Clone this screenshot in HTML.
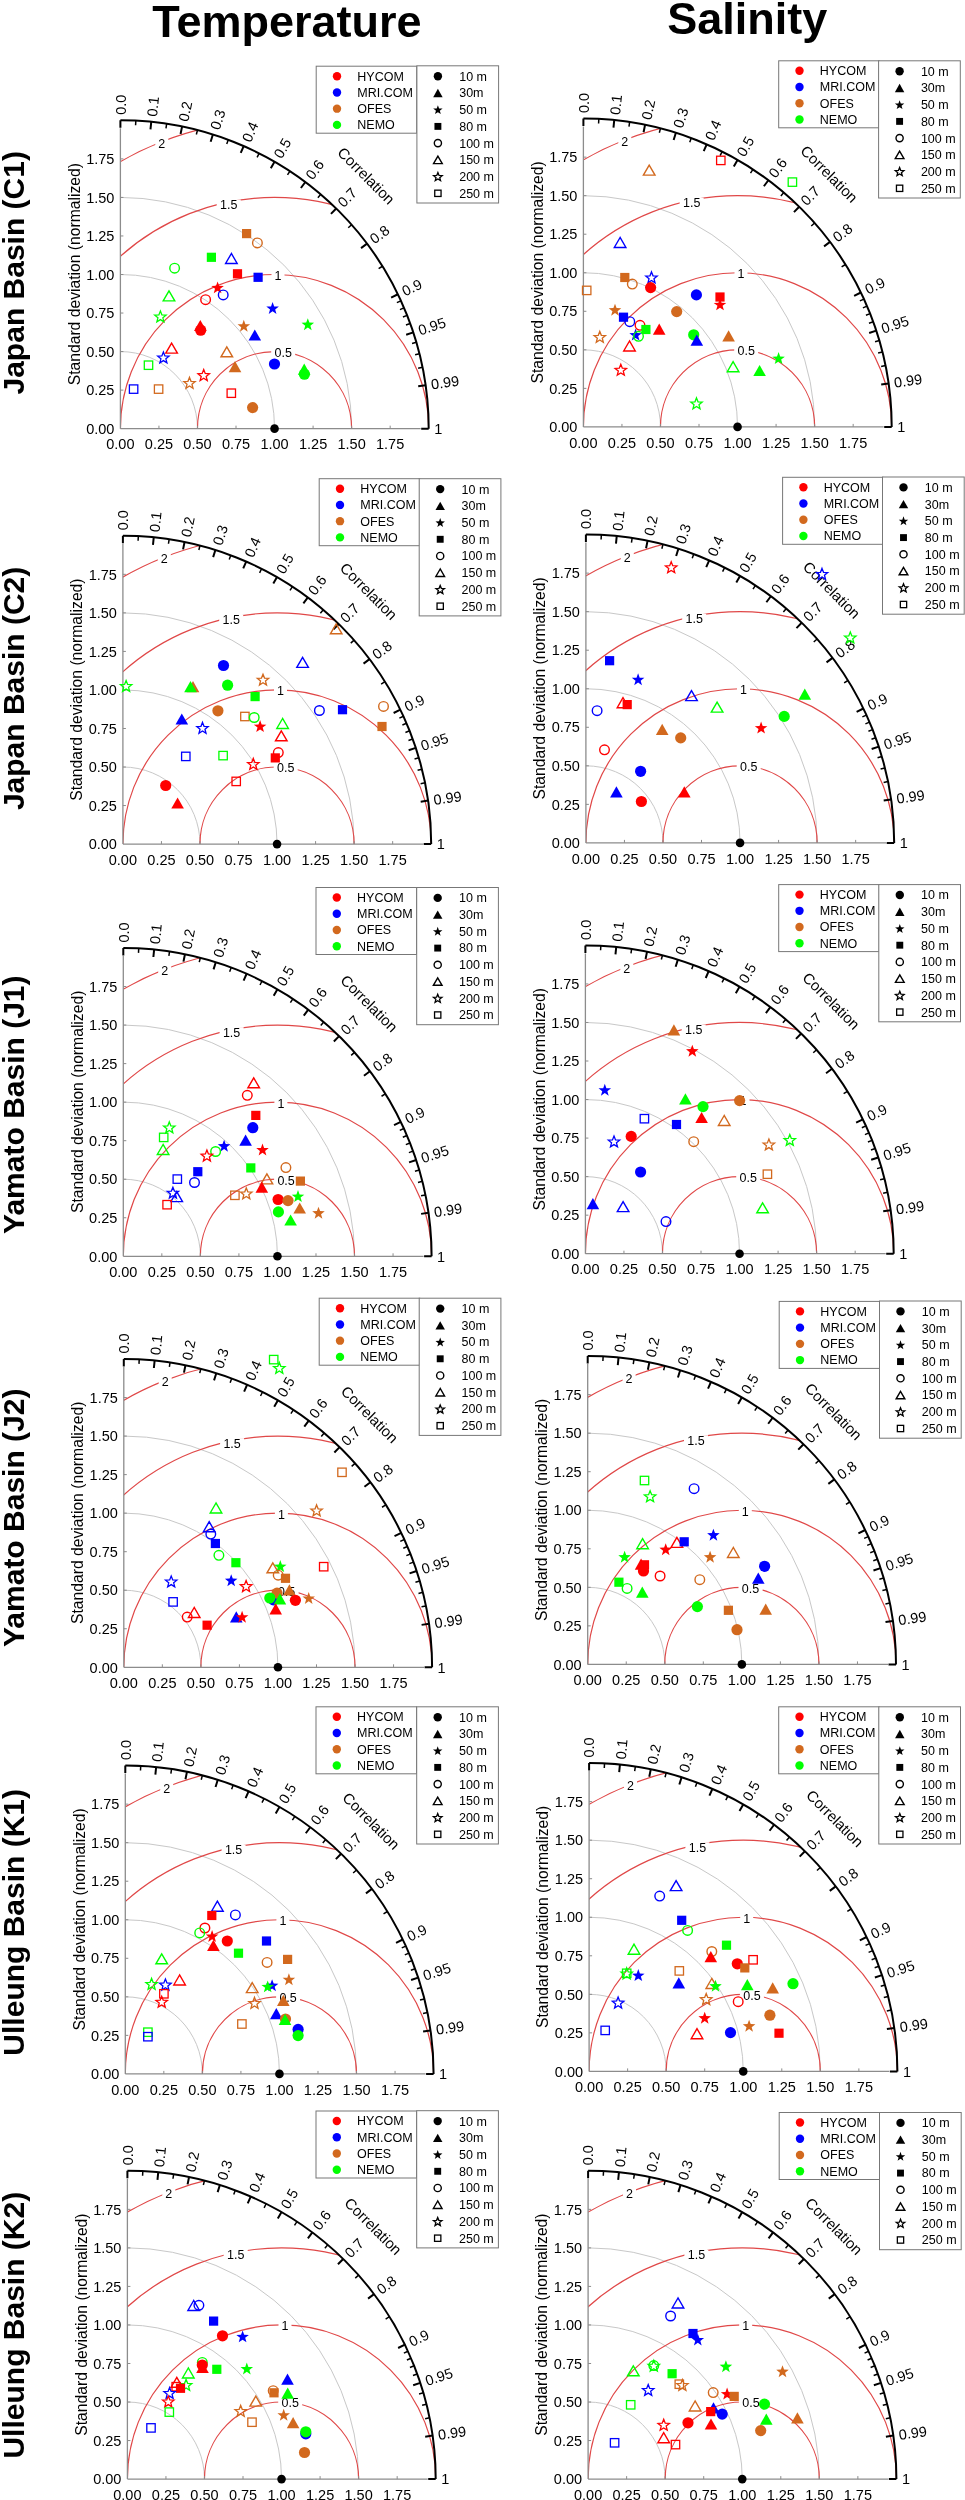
<!DOCTYPE html>
<html><head><meta charset="utf-8"><style>
html,body{margin:0;padding:0;background:#fff;}
svg{display:block;will-change:transform;}
</style></head><body>
<svg width="965" height="2500" viewBox="0 0 965 2500" font-family='"Liberation Sans", sans-serif' fill="#000">
<rect width="965" height="2500" fill="#fff"/>
<text x="286.9" y="36.7" font-size="45" font-weight="bold" text-anchor="middle">Temperature</text>
<text x="747.2" y="34" font-size="45" font-weight="bold" text-anchor="middle">Salinity</text>
<clipPath id="clip0"><path d="M120.4,428.65 L120.4,120.35 A308.3,308.3 0 0 1 428.7,428.65 Z"/></clipPath>
<path d="M120.4,351.57 A77.08,77.08 0 0 1 197.48,428.65" fill="none" stroke="#c8c8c8" stroke-width="1"/>
<path d="M120.4,274.5 A154.15,154.15 0 0 1 274.55,428.65" fill="none" stroke="#c8c8c8" stroke-width="1"/>
<path d="M120.4,197.42 A231.23,231.23 0 0 1 351.62,428.65" fill="none" stroke="#c8c8c8" stroke-width="1"/>
<g clip-path="url(#clip0)" fill="none" stroke="#e04848" stroke-width="1.2"><circle cx="274.55" cy="428.65" r="77.08"/><circle cx="274.55" cy="428.65" r="154.15"/><circle cx="274.55" cy="428.65" r="231.23"/><circle cx="274.55" cy="428.65" r="308.3"/></g>
<rect x="155.3" y="138.2" width="13" height="10" fill="#fff"/>
<text x="161.8" y="147.7" font-size="12.5" text-anchor="middle">2</text>
<rect x="216.7" y="199.5" width="24" height="10" fill="#fff"/>
<text x="228.7" y="209" font-size="12.5" text-anchor="middle">1.5</text>
<rect x="271.5" y="270.4" width="13" height="10" fill="#fff"/>
<text x="278" y="279.9" font-size="12.5" text-anchor="middle">1</text>
<rect x="271.2" y="347.4" width="24" height="10" fill="#fff"/>
<text x="283.2" y="356.9" font-size="12.5" text-anchor="middle">0.5</text>
<path d="M120.4,428.65 H420.7 M120.4,428.65 V128.35" stroke="#8c8c8c" stroke-width="1.3" fill="none"/>
<path d="M158.94,428.65 v-3 M120.4,390.11 h3 M197.48,428.65 v-3 M120.4,351.57 h3 M236.01,428.65 v-3 M120.4,313.04 h3 M274.55,428.65 v-3 M120.4,274.5 h3 M313.09,428.65 v-3 M120.4,235.96 h3 M351.62,428.65 v-3 M120.4,197.42 h3 M390.16,428.65 v-3 M120.4,158.89 h3" stroke="#8c8c8c" stroke-width="1" fill="none"/>
<path d="M120.4,120.35 A308.3,308.3 0 0 1 428.7,428.65" fill="none" stroke="#000" stroke-width="2"/>
<path d="M120.4,120.35 L120.4,127.85 M151.23,121.9 L150.48,129.36 M182.06,126.58 L180.56,133.93 M212.89,134.55 L210.64,141.71 M243.72,146.09 L240.72,152.96 M274.55,161.65 L270.8,168.15 M305.38,182.01 L300.88,188.01 M336.21,208.48 L330.96,213.84 M367.04,243.67 L361.04,248.17 M397.87,294.27 L391.12,297.53 M413.28,332.38 L406.16,334.73 M425.62,385.16 L418.19,386.22 M428.7,428.65 L421.2,428.65" stroke="#000" stroke-width="2" fill="none"/>
<path d="M135.82,120.74 L135.59,125.23 M166.64,123.84 L165.97,128.29 M197.48,130.14 L196.35,134.5 M228.31,139.85 L226.73,144.07 M259.13,153.33 L257.11,157.35 M289.97,171.17 L287.49,174.93 M320.8,194.36 L317.87,197.78 M351.62,224.73 L348.25,227.71 M382.46,266.24 L378.63,268.61 M400.95,300.83 L396.86,302.69 M404.04,307.82 L399.9,309.59 M407.12,315.33 L402.93,316.99 M410.2,323.47 L405.97,325 M416.37,342.33 L412.05,343.59 M419.45,353.7 L415.09,354.79 M422.53,367.3 L418.12,368.19" stroke="#000" stroke-width="1.5" fill="none"/>
<text transform="translate(120.4,114.85) rotate(-90)" x="0" y="5.2" font-size="14.5">0.0</text>
<text transform="translate(151.78,116.42) rotate(-84.26)" x="0" y="5.2" font-size="14.5">0.1</text>
<text transform="translate(183.16,121.19) rotate(-78.46)" x="0" y="5.2" font-size="14.5">0.2</text>
<text transform="translate(214.54,129.3) rotate(-72.54)" x="0" y="5.2" font-size="14.5">0.3</text>
<text transform="translate(245.92,141.05) rotate(-66.42)" x="0" y="5.2" font-size="14.5">0.4</text>
<text transform="translate(277.3,156.89) rotate(-60)" x="0" y="5.2" font-size="14.5">0.5</text>
<text transform="translate(308.68,177.61) rotate(-53.13)" x="0" y="5.2" font-size="14.5">0.6</text>
<text transform="translate(340.06,204.55) rotate(-45.57)" x="0" y="5.2" font-size="14.5">0.7</text>
<text transform="translate(371.44,240.37) rotate(-36.87)" x="0" y="5.2" font-size="14.5">0.8</text>
<text transform="translate(402.82,291.87) rotate(-25.84)" x="0" y="5.2" font-size="14.5">0.9</text>
<text transform="translate(418.51,330.67) rotate(-18.19)" x="0" y="5.2" font-size="14.5">0.95</text>
<text transform="translate(431.06,384.38) rotate(-8.11)" x="0" y="5.2" font-size="14.5">0.99</text>
<text transform="translate(434.2,428.65) rotate(-0)" x="0" y="5.2" font-size="14.5">1</text>
<text x="114.4" y="433.85" font-size="14.5" text-anchor="end">0.00</text>
<text x="120.4" y="449.35" font-size="14.5" text-anchor="middle">0.00</text>
<text x="114.4" y="395.31" font-size="14.5" text-anchor="end">0.25</text>
<text x="158.94" y="449.35" font-size="14.5" text-anchor="middle">0.25</text>
<text x="114.4" y="356.77" font-size="14.5" text-anchor="end">0.50</text>
<text x="197.48" y="449.35" font-size="14.5" text-anchor="middle">0.50</text>
<text x="114.4" y="318.24" font-size="14.5" text-anchor="end">0.75</text>
<text x="236.01" y="449.35" font-size="14.5" text-anchor="middle">0.75</text>
<text x="114.4" y="279.7" font-size="14.5" text-anchor="end">1.00</text>
<text x="274.55" y="449.35" font-size="14.5" text-anchor="middle">1.00</text>
<text x="114.4" y="241.16" font-size="14.5" text-anchor="end">1.25</text>
<text x="313.09" y="449.35" font-size="14.5" text-anchor="middle">1.25</text>
<text x="114.4" y="202.62" font-size="14.5" text-anchor="end">1.50</text>
<text x="351.62" y="449.35" font-size="14.5" text-anchor="middle">1.50</text>
<text x="114.4" y="164.09" font-size="14.5" text-anchor="end">1.75</text>
<text x="390.16" y="449.35" font-size="14.5" text-anchor="middle">1.75</text>
<text transform="translate(366.29,175.8) rotate(45)" y="5.3" font-size="15" text-anchor="middle">Correlation</text>
<text transform="translate(79.6,274.15) rotate(-90)" font-size="15.7" text-anchor="middle">Standard deviation (normalized)</text>
<text transform="translate(23.6,272.8) rotate(-90)" font-size="30" font-weight="bold" text-anchor="middle">Japan Basin (C1)</text>
<rect x="316.2" y="66.2" width="100.5" height="67" fill="#fff" stroke="#777" stroke-width="1"/>
<circle cx="337" cy="76.2" r="4.2" fill="#ff0000"/>
<text x="357.3" y="80.6" font-size="12.5">HYCOM</text>
<circle cx="337" cy="92.43" r="4.2" fill="#0000ff"/>
<text x="357.3" y="96.83" font-size="12.5">MRI.COM</text>
<circle cx="337" cy="108.66" r="4.2" fill="#d2691e"/>
<text x="357.3" y="113.06" font-size="12.5">OFES</text>
<circle cx="337" cy="124.89" r="4.2" fill="#00ff00"/>
<text x="357.3" y="129.29" font-size="12.5">NEMO</text>
<rect x="416.9" y="65.8" width="81.7" height="137.2" fill="#fff" stroke="#777" stroke-width="1"/>
<circle cx="437.9" cy="76.2" r="4.2" fill="#000000"/>
<text x="459.2" y="80.6" font-size="12.5">10 m</text>
<polygon points="437.9,88.73 433.17,97.13 442.62,97.13" fill="#000000"/>
<text x="459.2" y="97.33" font-size="12.5">30m</text>
<polygon points="437.9,105.16 439.09,108.47 442.61,108.58 439.83,110.74 440.81,114.11 437.9,112.14 434.99,114.11 435.97,110.74 433.19,108.58 436.71,108.47" fill="#000000"/>
<text x="459.2" y="114.06" font-size="12.5">50 m</text>
<rect x="434.45" y="122.94" width="6.9" height="6.9" fill="#000000"/>
<text x="459.2" y="130.79" font-size="12.5">80 m</text>
<circle cx="437.9" cy="143.12" r="3.6" fill="none" stroke="#000000" stroke-width="1.4"/>
<text x="459.2" y="147.52" font-size="12.5">100 m</text>
<polygon points="437.9,156.1 433.55,163.6 442.25,163.6" fill="none" stroke="#000000" stroke-width="1.4" stroke-linejoin="miter"/>
<text x="459.2" y="164.25" font-size="12.5">150 m</text>
<polygon points="437.9,172.53 439.05,175.45 442.18,175.64 439.75,177.63 440.55,180.67 437.9,178.98 435.25,180.67 436.05,177.63 433.62,175.64 436.75,175.45" fill="none" stroke="#000000" stroke-width="1.3" stroke-linejoin="miter"/>
<text x="459.2" y="180.98" font-size="12.5">200 m</text>
<rect x="434.75" y="190.16" width="6.3" height="6.3" fill="none" stroke="#000000" stroke-width="1.3"/>
<text x="459.2" y="197.71" font-size="12.5">250 m</text>
<circle cx="274.55" cy="428.65" r="4.3" fill="#000"/>
<rect x="242" y="229" width="9.2" height="9.2" fill="#d2691e"/>
<circle cx="257.4" cy="242.9" r="4.8" fill="none" stroke="#d2691e" stroke-width="1.4"/>
<rect x="206.8" y="252.7" width="9.2" height="9.2" fill="#00ff00"/>
<polygon points="231.4,253.5 225.6,263.5 237.2,263.5" fill="none" stroke="#0000ff" stroke-width="1.4" stroke-linejoin="miter"/>
<circle cx="174.6" cy="268.2" r="4.8" fill="none" stroke="#00ff00" stroke-width="1.4"/>
<rect x="232.9" y="269.2" width="9.2" height="9.2" fill="#ff0000"/>
<rect x="253.5" y="272.7" width="9.2" height="9.2" fill="#0000ff"/>
<polygon points="217.6,281.4 219.19,285.82 223.88,285.96 220.17,288.83 221.48,293.34 217.6,290.7 213.72,293.34 215.03,288.83 211.32,285.96 216.01,285.82" fill="#ff0000"/>
<circle cx="223.2" cy="294.9" r="4.8" fill="none" stroke="#0000ff" stroke-width="1.4"/>
<circle cx="205.6" cy="299.7" r="4.8" fill="none" stroke="#ff0000" stroke-width="1.4"/>
<polygon points="169,290.9 163.2,300.9 174.8,300.9" fill="none" stroke="#00ff00" stroke-width="1.4" stroke-linejoin="miter"/>
<polygon points="160.4,311 161.93,314.9 166.11,315.15 162.87,317.8 163.93,321.85 160.4,319.6 156.87,321.85 157.93,317.8 154.69,315.15 158.87,314.9" fill="none" stroke="#00ff00" stroke-width="1.3" stroke-linejoin="miter"/>
<polygon points="272.6,302 274.19,306.42 278.88,306.56 275.17,309.43 276.48,313.94 272.6,311.3 268.72,313.94 270.03,309.43 266.32,306.56 271.01,306.42" fill="#0000ff"/>
<polygon points="307.8,318.2 309.39,322.62 314.08,322.76 310.37,325.63 311.68,330.14 307.8,327.5 303.92,330.14 305.23,325.63 301.52,322.76 306.21,322.62" fill="#00ff00"/>
<polygon points="243.8,319.8 245.39,324.22 250.08,324.36 246.37,327.23 247.68,331.74 243.8,329.1 239.92,331.74 241.23,327.23 237.52,324.36 242.21,324.22" fill="#d2691e"/>
<polygon points="200.3,319.9 194,331.1 206.6,331.1" fill="#ff0000"/>
<circle cx="200.7" cy="330.2" r="5.6" fill="#ff0000"/>
<polygon points="254.8,329.4 248.5,340.6 261.1,340.6" fill="#0000ff"/>
<polygon points="171.6,343.1 165.8,353.1 177.4,353.1" fill="none" stroke="#ff0000" stroke-width="1.4" stroke-linejoin="miter"/>
<polygon points="226.8,346.8 221,356.8 232.6,356.8" fill="none" stroke="#d2691e" stroke-width="1.4" stroke-linejoin="miter"/>
<polygon points="163.4,352 164.93,355.9 169.11,356.15 165.87,358.8 166.93,362.85 163.4,360.6 159.87,362.85 160.93,358.8 157.69,356.15 161.87,355.9" fill="none" stroke="#0000ff" stroke-width="1.3" stroke-linejoin="miter"/>
<rect x="144.3" y="361" width="8.4" height="8.4" fill="none" stroke="#00ff00" stroke-width="1.3"/>
<polygon points="235,361.1 228.7,372.3 241.3,372.3" fill="#d2691e"/>
<circle cx="274.5" cy="364" r="5.6" fill="#0000ff"/>
<polygon points="304.2,363.6 297.9,374.8 310.5,374.8" fill="#00ff00"/>
<circle cx="304.4" cy="374.2" r="5.6" fill="#00ff00"/>
<polygon points="203.7,369.6 205.23,373.5 209.41,373.75 206.17,376.4 207.23,380.45 203.7,378.2 200.17,380.45 201.23,376.4 197.99,373.75 202.17,373.5" fill="none" stroke="#ff0000" stroke-width="1.3" stroke-linejoin="miter"/>
<polygon points="189.5,377.4 191.03,381.3 195.21,381.55 191.97,384.2 193.03,388.25 189.5,386 185.97,388.25 187.03,384.2 183.79,381.55 187.97,381.3" fill="none" stroke="#d2691e" stroke-width="1.3" stroke-linejoin="miter"/>
<rect x="129.4" y="384.9" width="8.4" height="8.4" fill="none" stroke="#0000ff" stroke-width="1.3"/>
<rect x="154.4" y="384.9" width="8.4" height="8.4" fill="none" stroke="#d2691e" stroke-width="1.3"/>
<rect x="227.1" y="389" width="8.4" height="8.4" fill="none" stroke="#ff0000" stroke-width="1.3"/>
<circle cx="252.6" cy="407.6" r="5.6" fill="#d2691e"/>
<clipPath id="clip1"><path d="M583.4,426.9 L583.4,118.6 A308.3,308.3 0 0 1 891.7,426.9 Z"/></clipPath>
<path d="M583.4,349.82 A77.08,77.08 0 0 1 660.48,426.9" fill="none" stroke="#c8c8c8" stroke-width="1"/>
<path d="M583.4,272.75 A154.15,154.15 0 0 1 737.55,426.9" fill="none" stroke="#c8c8c8" stroke-width="1"/>
<path d="M583.4,195.67 A231.23,231.23 0 0 1 814.62,426.9" fill="none" stroke="#c8c8c8" stroke-width="1"/>
<g clip-path="url(#clip1)" fill="none" stroke="#e04848" stroke-width="1.2"><circle cx="737.55" cy="426.9" r="77.08"/><circle cx="737.55" cy="426.9" r="154.15"/><circle cx="737.55" cy="426.9" r="231.23"/><circle cx="737.55" cy="426.9" r="308.3"/></g>
<rect x="618.3" y="136.45" width="13" height="10" fill="#fff"/>
<text x="624.8" y="145.95" font-size="12.5" text-anchor="middle">2</text>
<rect x="679.7" y="197.75" width="24" height="10" fill="#fff"/>
<text x="691.7" y="207.25" font-size="12.5" text-anchor="middle">1.5</text>
<rect x="734.5" y="268.65" width="13" height="10" fill="#fff"/>
<text x="741" y="278.15" font-size="12.5" text-anchor="middle">1</text>
<rect x="734.2" y="345.65" width="24" height="10" fill="#fff"/>
<text x="746.2" y="355.15" font-size="12.5" text-anchor="middle">0.5</text>
<path d="M583.4,426.9 H883.7 M583.4,426.9 V126.6" stroke="#8c8c8c" stroke-width="1.3" fill="none"/>
<path d="M621.94,426.9 v-3 M583.4,388.36 h3 M660.48,426.9 v-3 M583.4,349.82 h3 M699.01,426.9 v-3 M583.4,311.29 h3 M737.55,426.9 v-3 M583.4,272.75 h3 M776.09,426.9 v-3 M583.4,234.21 h3 M814.62,426.9 v-3 M583.4,195.67 h3 M853.16,426.9 v-3 M583.4,157.14 h3" stroke="#8c8c8c" stroke-width="1" fill="none"/>
<path d="M583.4,118.6 A308.3,308.3 0 0 1 891.7,426.9" fill="none" stroke="#000" stroke-width="2"/>
<path d="M583.4,118.6 L583.4,126.1 M614.23,120.15 L613.48,127.61 M645.06,124.83 L643.56,132.18 M675.89,132.8 L673.64,139.96 M706.72,144.34 L703.72,151.21 M737.55,159.9 L733.8,166.4 M768.38,180.26 L763.88,186.26 M799.21,206.73 L793.96,212.09 M830.04,241.92 L824.04,246.42 M860.87,292.52 L854.12,295.78 M876.28,330.63 L869.16,332.98 M888.62,383.41 L881.19,384.47 M891.7,426.9 L884.2,426.9" stroke="#000" stroke-width="2" fill="none"/>
<path d="M598.82,118.99 L598.59,123.48 M629.64,122.09 L628.97,126.54 M660.48,128.39 L659.35,132.75 M691.3,138.1 L689.73,142.32 M722.13,151.58 L720.11,155.6 M752.97,169.42 L750.49,173.18 M783.79,192.61 L780.87,196.03 M814.62,222.98 L811.25,225.96 M845.45,264.49 L841.63,266.86 M863.95,299.08 L859.86,300.94 M867.04,306.07 L862.9,307.84 M870.12,313.58 L865.93,315.24 M873.2,321.72 L868.97,323.25 M879.37,340.58 L875.05,341.84 M882.45,351.95 L878.09,353.04 M885.53,365.55 L881.12,366.44" stroke="#000" stroke-width="1.5" fill="none"/>
<text transform="translate(583.4,113.1) rotate(-90)" x="0" y="5.2" font-size="14.5">0.0</text>
<text transform="translate(614.78,114.67) rotate(-84.26)" x="0" y="5.2" font-size="14.5">0.1</text>
<text transform="translate(646.16,119.44) rotate(-78.46)" x="0" y="5.2" font-size="14.5">0.2</text>
<text transform="translate(677.54,127.55) rotate(-72.54)" x="0" y="5.2" font-size="14.5">0.3</text>
<text transform="translate(708.92,139.3) rotate(-66.42)" x="0" y="5.2" font-size="14.5">0.4</text>
<text transform="translate(740.3,155.14) rotate(-60)" x="0" y="5.2" font-size="14.5">0.5</text>
<text transform="translate(771.68,175.86) rotate(-53.13)" x="0" y="5.2" font-size="14.5">0.6</text>
<text transform="translate(803.06,202.8) rotate(-45.57)" x="0" y="5.2" font-size="14.5">0.7</text>
<text transform="translate(834.44,238.62) rotate(-36.87)" x="0" y="5.2" font-size="14.5">0.8</text>
<text transform="translate(865.82,290.12) rotate(-25.84)" x="0" y="5.2" font-size="14.5">0.9</text>
<text transform="translate(881.51,328.92) rotate(-18.19)" x="0" y="5.2" font-size="14.5">0.95</text>
<text transform="translate(894.06,382.63) rotate(-8.11)" x="0" y="5.2" font-size="14.5">0.99</text>
<text transform="translate(897.2,426.9) rotate(-0)" x="0" y="5.2" font-size="14.5">1</text>
<text x="577.4" y="432.1" font-size="14.5" text-anchor="end">0.00</text>
<text x="583.4" y="447.6" font-size="14.5" text-anchor="middle">0.00</text>
<text x="577.4" y="393.56" font-size="14.5" text-anchor="end">0.25</text>
<text x="621.94" y="447.6" font-size="14.5" text-anchor="middle">0.25</text>
<text x="577.4" y="355.02" font-size="14.5" text-anchor="end">0.50</text>
<text x="660.48" y="447.6" font-size="14.5" text-anchor="middle">0.50</text>
<text x="577.4" y="316.49" font-size="14.5" text-anchor="end">0.75</text>
<text x="699.01" y="447.6" font-size="14.5" text-anchor="middle">0.75</text>
<text x="577.4" y="277.95" font-size="14.5" text-anchor="end">1.00</text>
<text x="737.55" y="447.6" font-size="14.5" text-anchor="middle">1.00</text>
<text x="577.4" y="239.41" font-size="14.5" text-anchor="end">1.25</text>
<text x="776.09" y="447.6" font-size="14.5" text-anchor="middle">1.25</text>
<text x="577.4" y="200.87" font-size="14.5" text-anchor="end">1.50</text>
<text x="814.62" y="447.6" font-size="14.5" text-anchor="middle">1.50</text>
<text x="577.4" y="162.34" font-size="14.5" text-anchor="end">1.75</text>
<text x="853.16" y="447.6" font-size="14.5" text-anchor="middle">1.75</text>
<text transform="translate(829.29,174.05) rotate(45)" y="5.3" font-size="15" text-anchor="middle">Correlation</text>
<text transform="translate(542.6,272.4) rotate(-90)" font-size="15.7" text-anchor="middle">Standard deviation (normalized)</text>
<rect x="778.7" y="60.8" width="100.5" height="67" fill="#fff" stroke="#777" stroke-width="1"/>
<circle cx="799.5" cy="70.8" r="4.2" fill="#ff0000"/>
<text x="819.8" y="75.2" font-size="12.5">HYCOM</text>
<circle cx="799.5" cy="87.03" r="4.2" fill="#0000ff"/>
<text x="819.8" y="91.43" font-size="12.5">MRI.COM</text>
<circle cx="799.5" cy="103.26" r="4.2" fill="#d2691e"/>
<text x="819.8" y="107.66" font-size="12.5">OFES</text>
<circle cx="799.5" cy="119.49" r="4.2" fill="#00ff00"/>
<text x="819.8" y="123.89" font-size="12.5">NEMO</text>
<rect x="878.6" y="60.8" width="81.7" height="137.2" fill="#fff" stroke="#777" stroke-width="1"/>
<circle cx="899.6" cy="71.2" r="4.2" fill="#000000"/>
<text x="920.9" y="75.6" font-size="12.5">10 m</text>
<polygon points="899.6,83.73 894.88,92.13 904.33,92.13" fill="#000000"/>
<text x="920.9" y="92.33" font-size="12.5">30m</text>
<polygon points="899.6,100.16 900.79,103.47 904.31,103.58 901.53,105.74 902.51,109.11 899.6,107.14 896.69,109.11 897.67,105.74 894.89,103.58 898.41,103.47" fill="#000000"/>
<text x="920.9" y="109.06" font-size="12.5">50 m</text>
<rect x="896.15" y="117.94" width="6.9" height="6.9" fill="#000000"/>
<text x="920.9" y="125.79" font-size="12.5">80 m</text>
<circle cx="899.6" cy="138.12" r="3.6" fill="none" stroke="#000000" stroke-width="1.4"/>
<text x="920.9" y="142.52" font-size="12.5">100 m</text>
<polygon points="899.6,151.1 895.25,158.6 903.95,158.6" fill="none" stroke="#000000" stroke-width="1.4" stroke-linejoin="miter"/>
<text x="920.9" y="159.25" font-size="12.5">150 m</text>
<polygon points="899.6,167.53 900.75,170.45 903.88,170.64 901.45,172.63 902.25,175.67 899.6,173.98 896.95,175.67 897.75,172.63 895.32,170.64 898.45,170.45" fill="none" stroke="#000000" stroke-width="1.3" stroke-linejoin="miter"/>
<text x="920.9" y="175.98" font-size="12.5">200 m</text>
<rect x="896.45" y="185.16" width="6.3" height="6.3" fill="none" stroke="#000000" stroke-width="1.3"/>
<text x="920.9" y="192.71" font-size="12.5">250 m</text>
<circle cx="737.55" cy="426.9" r="4.3" fill="#000"/>
<polygon points="649.2,165.1 643.4,175.1 655,175.1" fill="none" stroke="#d2691e" stroke-width="1.4" stroke-linejoin="miter"/>
<rect x="716.6" y="156.2" width="8.4" height="8.4" fill="none" stroke="#ff0000" stroke-width="1.3"/>
<rect x="788.2" y="177.9" width="8.4" height="8.4" fill="none" stroke="#00ff00" stroke-width="1.3"/>
<polygon points="620.1,237.5 614.3,247.5 625.9,247.5" fill="none" stroke="#0000ff" stroke-width="1.4" stroke-linejoin="miter"/>
<rect x="620.2" y="272.9" width="9.2" height="9.2" fill="#d2691e"/>
<circle cx="632.3" cy="284.1" r="4.8" fill="none" stroke="#d2691e" stroke-width="1.4"/>
<polygon points="651.5,271.9 653.03,275.8 657.21,276.05 653.97,278.7 655.03,282.75 651.5,280.5 647.97,282.75 649.03,278.7 645.79,276.05 649.97,275.8" fill="none" stroke="#0000ff" stroke-width="1.3" stroke-linejoin="miter"/>
<circle cx="650.6" cy="287.6" r="5.6" fill="#ff0000"/>
<rect x="582.5" y="286.2" width="8.4" height="8.4" fill="none" stroke="#d2691e" stroke-width="1.3"/>
<circle cx="696.4" cy="294.9" r="5.6" fill="#0000ff"/>
<rect x="715.4" y="292.4" width="9.2" height="9.2" fill="#ff0000"/>
<polygon points="720,298.4 721.59,302.82 726.28,302.96 722.57,305.83 723.88,310.34 720,307.7 716.12,310.34 717.43,305.83 713.72,302.96 718.41,302.82" fill="#ff0000"/>
<polygon points="615,303.7 616.59,308.12 621.28,308.26 617.57,311.13 618.88,315.64 615,313 611.12,315.64 612.43,311.13 608.72,308.26 613.41,308.12" fill="#d2691e"/>
<circle cx="676.7" cy="311.6" r="5.6" fill="#d2691e"/>
<rect x="618.9" y="312.6" width="9.2" height="9.2" fill="#0000ff"/>
<circle cx="629.8" cy="321.7" r="4.8" fill="none" stroke="#0000ff" stroke-width="1.4"/>
<circle cx="640" cy="325.3" r="4.8" fill="none" stroke="#ff0000" stroke-width="1.4"/>
<rect x="641.3" y="324.9" width="9.2" height="9.2" fill="#00ff00"/>
<polygon points="659.2,323.6 652.9,334.8 665.5,334.8" fill="#ff0000"/>
<polygon points="635.6,328.6 637.19,333.02 641.88,333.16 638.17,336.03 639.48,340.54 635.6,337.9 631.72,340.54 633.03,336.03 629.32,333.16 634.01,333.02" fill="#0000ff"/>
<circle cx="638.5" cy="336.3" r="4.8" fill="none" stroke="#00ff00" stroke-width="1.4"/>
<circle cx="693.7" cy="334.8" r="5.6" fill="#00ff00"/>
<polygon points="696.8,334.6 690.5,345.8 703.1,345.8" fill="#0000ff"/>
<polygon points="728.6,330.2 722.3,341.4 734.9,341.4" fill="#d2691e"/>
<polygon points="599.8,331.4 601.33,335.3 605.51,335.55 602.27,338.2 603.33,342.25 599.8,340 596.27,342.25 597.33,338.2 594.09,335.55 598.27,335.3" fill="none" stroke="#d2691e" stroke-width="1.3" stroke-linejoin="miter"/>
<polygon points="629.5,341 623.7,351 635.3,351" fill="none" stroke="#ff0000" stroke-width="1.4" stroke-linejoin="miter"/>
<polygon points="733.1,361.7 727.3,371.7 738.9,371.7" fill="none" stroke="#00ff00" stroke-width="1.4" stroke-linejoin="miter"/>
<polygon points="759.6,364.9 753.3,376.1 765.9,376.1" fill="#00ff00"/>
<polygon points="778.6,352.1 780.19,356.52 784.88,356.66 781.17,359.53 782.48,364.04 778.6,361.4 774.72,364.04 776.03,359.53 772.32,356.66 777.01,356.52" fill="#00ff00"/>
<polygon points="620.8,364.3 622.33,368.2 626.51,368.45 623.27,371.1 624.33,375.15 620.8,372.9 617.27,375.15 618.33,371.1 615.09,368.45 619.27,368.2" fill="none" stroke="#ff0000" stroke-width="1.3" stroke-linejoin="miter"/>
<polygon points="696.5,397.9 698.03,401.8 702.21,402.05 698.97,404.7 700.03,408.75 696.5,406.5 692.97,408.75 694.03,404.7 690.79,402.05 694.97,401.8" fill="none" stroke="#00ff00" stroke-width="1.3" stroke-linejoin="miter"/>
<clipPath id="clip2"><path d="M122.9,844.1 L122.9,535.8 A308.3,308.3 0 0 1 431.2,844.1 Z"/></clipPath>
<path d="M122.9,767.02 A77.08,77.08 0 0 1 199.98,844.1" fill="none" stroke="#c8c8c8" stroke-width="1"/>
<path d="M122.9,689.95 A154.15,154.15 0 0 1 277.05,844.1" fill="none" stroke="#c8c8c8" stroke-width="1"/>
<path d="M122.9,612.88 A231.23,231.23 0 0 1 354.12,844.1" fill="none" stroke="#c8c8c8" stroke-width="1"/>
<g clip-path="url(#clip2)" fill="none" stroke="#e04848" stroke-width="1.2"><circle cx="277.05" cy="844.1" r="77.08"/><circle cx="277.05" cy="844.1" r="154.15"/><circle cx="277.05" cy="844.1" r="231.23"/><circle cx="277.05" cy="844.1" r="308.3"/></g>
<rect x="157.8" y="553.65" width="13" height="10" fill="#fff"/>
<text x="164.3" y="563.15" font-size="12.5" text-anchor="middle">2</text>
<rect x="219.2" y="614.95" width="24" height="10" fill="#fff"/>
<text x="231.2" y="624.45" font-size="12.5" text-anchor="middle">1.5</text>
<rect x="274" y="685.85" width="13" height="10" fill="#fff"/>
<text x="280.5" y="695.35" font-size="12.5" text-anchor="middle">1</text>
<rect x="273.7" y="762.85" width="24" height="10" fill="#fff"/>
<text x="285.7" y="772.35" font-size="12.5" text-anchor="middle">0.5</text>
<path d="M122.9,844.1 H423.2 M122.9,844.1 V543.8" stroke="#8c8c8c" stroke-width="1.3" fill="none"/>
<path d="M161.44,844.1 v-3 M122.9,805.56 h3 M199.98,844.1 v-3 M122.9,767.02 h3 M238.51,844.1 v-3 M122.9,728.49 h3 M277.05,844.1 v-3 M122.9,689.95 h3 M315.59,844.1 v-3 M122.9,651.41 h3 M354.12,844.1 v-3 M122.9,612.88 h3 M392.66,844.1 v-3 M122.9,574.34 h3" stroke="#8c8c8c" stroke-width="1" fill="none"/>
<path d="M122.9,535.8 A308.3,308.3 0 0 1 431.2,844.1" fill="none" stroke="#000" stroke-width="2"/>
<path d="M122.9,535.8 L122.9,543.3 M153.73,537.35 L152.98,544.81 M184.56,542.03 L183.06,549.38 M215.39,550 L213.14,557.16 M246.22,561.54 L243.22,568.41 M277.05,577.1 L273.3,583.6 M307.88,597.46 L303.38,603.46 M338.71,623.93 L333.46,629.29 M369.54,659.12 L363.54,663.62 M400.37,709.72 L393.62,712.98 M415.78,747.83 L408.66,750.18 M428.12,800.61 L420.69,801.67 M431.2,844.1 L423.7,844.1" stroke="#000" stroke-width="2" fill="none"/>
<path d="M138.32,536.19 L138.09,540.68 M169.14,539.29 L168.47,543.74 M199.98,545.59 L198.85,549.95 M230.81,555.3 L229.23,559.52 M261.63,568.78 L259.61,572.8 M292.47,586.62 L289.99,590.38 M323.3,609.81 L320.37,613.23 M354.12,640.18 L350.75,643.16 M384.96,681.69 L381.13,684.06 M403.45,716.28 L399.36,718.14 M406.54,723.27 L402.4,725.04 M409.62,730.78 L405.43,732.44 M412.7,738.92 L408.47,740.45 M418.87,757.78 L414.55,759.04 M421.95,769.15 L417.59,770.24 M425.03,782.75 L420.62,783.64" stroke="#000" stroke-width="1.5" fill="none"/>
<text transform="translate(122.9,530.3) rotate(-90)" x="0" y="5.2" font-size="14.5">0.0</text>
<text transform="translate(154.28,531.87) rotate(-84.26)" x="0" y="5.2" font-size="14.5">0.1</text>
<text transform="translate(185.66,536.64) rotate(-78.46)" x="0" y="5.2" font-size="14.5">0.2</text>
<text transform="translate(217.04,544.75) rotate(-72.54)" x="0" y="5.2" font-size="14.5">0.3</text>
<text transform="translate(248.42,556.5) rotate(-66.42)" x="0" y="5.2" font-size="14.5">0.4</text>
<text transform="translate(279.8,572.34) rotate(-60)" x="0" y="5.2" font-size="14.5">0.5</text>
<text transform="translate(311.18,593.06) rotate(-53.13)" x="0" y="5.2" font-size="14.5">0.6</text>
<text transform="translate(342.56,620) rotate(-45.57)" x="0" y="5.2" font-size="14.5">0.7</text>
<text transform="translate(373.94,655.82) rotate(-36.87)" x="0" y="5.2" font-size="14.5">0.8</text>
<text transform="translate(405.32,707.32) rotate(-25.84)" x="0" y="5.2" font-size="14.5">0.9</text>
<text transform="translate(421.01,746.12) rotate(-18.19)" x="0" y="5.2" font-size="14.5">0.95</text>
<text transform="translate(433.56,799.83) rotate(-8.11)" x="0" y="5.2" font-size="14.5">0.99</text>
<text transform="translate(436.7,844.1) rotate(-0)" x="0" y="5.2" font-size="14.5">1</text>
<text x="116.9" y="849.3" font-size="14.5" text-anchor="end">0.00</text>
<text x="122.9" y="864.8" font-size="14.5" text-anchor="middle">0.00</text>
<text x="116.9" y="810.76" font-size="14.5" text-anchor="end">0.25</text>
<text x="161.44" y="864.8" font-size="14.5" text-anchor="middle">0.25</text>
<text x="116.9" y="772.23" font-size="14.5" text-anchor="end">0.50</text>
<text x="199.98" y="864.8" font-size="14.5" text-anchor="middle">0.50</text>
<text x="116.9" y="733.69" font-size="14.5" text-anchor="end">0.75</text>
<text x="238.51" y="864.8" font-size="14.5" text-anchor="middle">0.75</text>
<text x="116.9" y="695.15" font-size="14.5" text-anchor="end">1.00</text>
<text x="277.05" y="864.8" font-size="14.5" text-anchor="middle">1.00</text>
<text x="116.9" y="656.61" font-size="14.5" text-anchor="end">1.25</text>
<text x="315.59" y="864.8" font-size="14.5" text-anchor="middle">1.25</text>
<text x="116.9" y="618.08" font-size="14.5" text-anchor="end">1.50</text>
<text x="354.12" y="864.8" font-size="14.5" text-anchor="middle">1.50</text>
<text x="116.9" y="579.54" font-size="14.5" text-anchor="end">1.75</text>
<text x="392.66" y="864.8" font-size="14.5" text-anchor="middle">1.75</text>
<text transform="translate(368.79,591.25) rotate(45)" y="5.3" font-size="15" text-anchor="middle">Correlation</text>
<text transform="translate(82.1,689.6) rotate(-90)" font-size="15.7" text-anchor="middle">Standard deviation (normalized)</text>
<text transform="translate(23.6,688.4) rotate(-90)" font-size="30" font-weight="bold" text-anchor="middle">Japan Basin (C2)</text>
<rect x="319.2" y="478.7" width="100.5" height="67" fill="#fff" stroke="#777" stroke-width="1"/>
<circle cx="340" cy="488.7" r="4.2" fill="#ff0000"/>
<text x="360.3" y="493.1" font-size="12.5">HYCOM</text>
<circle cx="340" cy="504.93" r="4.2" fill="#0000ff"/>
<text x="360.3" y="509.33" font-size="12.5">MRI.COM</text>
<circle cx="340" cy="521.16" r="4.2" fill="#d2691e"/>
<text x="360.3" y="525.56" font-size="12.5">OFES</text>
<circle cx="340" cy="537.39" r="4.2" fill="#00ff00"/>
<text x="360.3" y="541.79" font-size="12.5">NEMO</text>
<rect x="419.2" y="478.7" width="81.7" height="137.2" fill="#fff" stroke="#777" stroke-width="1"/>
<circle cx="440.2" cy="489.1" r="4.2" fill="#000000"/>
<text x="461.5" y="493.5" font-size="12.5">10 m</text>
<polygon points="440.2,501.63 435.47,510.03 444.93,510.03" fill="#000000"/>
<text x="461.5" y="510.23" font-size="12.5">30m</text>
<polygon points="440.2,518.06 441.39,521.37 444.91,521.48 442.13,523.64 443.11,527.01 440.2,525.03 437.29,527.01 438.27,523.64 435.49,521.48 439.01,521.37" fill="#000000"/>
<text x="461.5" y="526.96" font-size="12.5">50 m</text>
<rect x="436.75" y="535.84" width="6.9" height="6.9" fill="#000000"/>
<text x="461.5" y="543.69" font-size="12.5">80 m</text>
<circle cx="440.2" cy="556.02" r="3.6" fill="none" stroke="#000000" stroke-width="1.4"/>
<text x="461.5" y="560.42" font-size="12.5">100 m</text>
<polygon points="440.2,569 435.85,576.5 444.55,576.5" fill="none" stroke="#000000" stroke-width="1.4" stroke-linejoin="miter"/>
<text x="461.5" y="577.15" font-size="12.5">150 m</text>
<polygon points="440.2,585.43 441.35,588.35 444.48,588.54 442.05,590.53 442.85,593.57 440.2,591.88 437.55,593.57 438.35,590.53 435.92,588.54 439.05,588.35" fill="none" stroke="#000000" stroke-width="1.3" stroke-linejoin="miter"/>
<text x="461.5" y="593.88" font-size="12.5">200 m</text>
<rect x="437.05" y="603.06" width="6.3" height="6.3" fill="none" stroke="#000000" stroke-width="1.3"/>
<text x="461.5" y="610.61" font-size="12.5">250 m</text>
<circle cx="277.05" cy="844.1" r="4.3" fill="#000"/>
<polygon points="336.2,623.8 330.4,633.8 342,633.8" fill="none" stroke="#d2691e" stroke-width="1.4" stroke-linejoin="miter"/>
<polygon points="302.6,657.4 296.8,667.4 308.4,667.4" fill="none" stroke="#0000ff" stroke-width="1.4" stroke-linejoin="miter"/>
<circle cx="223.5" cy="665.5" r="5.6" fill="#0000ff"/>
<polygon points="263,674.2 264.53,678.1 268.71,678.35 265.47,681 266.53,685.05 263,682.8 259.47,685.05 260.53,681 257.29,678.35 261.47,678.1" fill="none" stroke="#d2691e" stroke-width="1.3" stroke-linejoin="miter"/>
<polygon points="126.1,680.5 127.63,684.4 131.81,684.65 128.57,687.3 129.63,691.35 126.1,689.1 122.57,691.35 123.63,687.3 120.39,684.65 124.57,684.4" fill="none" stroke="#00ff00" stroke-width="1.3" stroke-linejoin="miter"/>
<polygon points="193,681.1 186.7,692.3 199.3,692.3" fill="#d2691e"/>
<polygon points="190.5,681.1 184.2,692.3 196.8,692.3" fill="#00ff00"/>
<circle cx="227.6" cy="685.2" r="5.6" fill="#00ff00"/>
<rect x="250.5" y="692" width="9.2" height="9.2" fill="#00ff00"/>
<circle cx="383.5" cy="706.4" r="4.8" fill="none" stroke="#d2691e" stroke-width="1.4"/>
<circle cx="319.4" cy="710.5" r="4.8" fill="none" stroke="#0000ff" stroke-width="1.4"/>
<rect x="337.9" y="705.1" width="9.2" height="9.2" fill="#0000ff"/>
<circle cx="217.9" cy="710.8" r="5.6" fill="#d2691e"/>
<rect x="240.7" y="712.3" width="8.4" height="8.4" fill="none" stroke="#d2691e" stroke-width="1.3"/>
<circle cx="254.2" cy="717.5" r="4.8" fill="none" stroke="#00ff00" stroke-width="1.4"/>
<polygon points="181.8,713.4 175.5,724.6 188.1,724.6" fill="#0000ff"/>
<polygon points="260.1,720.1 261.69,724.52 266.38,724.66 262.67,727.53 263.98,732.04 260.1,729.4 256.22,732.04 257.53,727.53 253.82,724.66 258.51,724.52" fill="#ff0000"/>
<polygon points="282.6,718.5 276.8,728.5 288.4,728.5" fill="none" stroke="#00ff00" stroke-width="1.4" stroke-linejoin="miter"/>
<polygon points="202.5,722.4 204.03,726.3 208.21,726.55 204.97,729.2 206.03,733.25 202.5,731 198.97,733.25 200.03,729.2 196.79,726.55 200.97,726.3" fill="none" stroke="#0000ff" stroke-width="1.3" stroke-linejoin="miter"/>
<rect x="377.4" y="721.9" width="9.2" height="9.2" fill="#d2691e"/>
<polygon points="281.3,730.8 275.5,740.8 287.1,740.8" fill="none" stroke="#ff0000" stroke-width="1.4" stroke-linejoin="miter"/>
<rect x="181.6" y="752.2" width="8.4" height="8.4" fill="none" stroke="#0000ff" stroke-width="1.3"/>
<rect x="218.9" y="751.4" width="8.4" height="8.4" fill="none" stroke="#00ff00" stroke-width="1.3"/>
<circle cx="278.3" cy="752.6" r="4.8" fill="none" stroke="#ff0000" stroke-width="1.4"/>
<rect x="270.7" y="753.3" width="9.2" height="9.2" fill="#ff0000"/>
<polygon points="253.3,758.4 254.83,762.3 259.01,762.55 255.77,765.2 256.83,769.25 253.3,767 249.77,769.25 250.83,765.2 247.59,762.55 251.77,762.3" fill="none" stroke="#ff0000" stroke-width="1.3" stroke-linejoin="miter"/>
<rect x="232" y="777.2" width="8.4" height="8.4" fill="none" stroke="#ff0000" stroke-width="1.3"/>
<circle cx="165.7" cy="785.5" r="5.6" fill="#ff0000"/>
<polygon points="177.6,797.4 171.3,808.6 183.9,808.6" fill="#ff0000"/>
<clipPath id="clip3"><path d="M585.9,842.9 L585.9,534.6 A308.3,308.3 0 0 1 894.2,842.9 Z"/></clipPath>
<path d="M585.9,765.82 A77.08,77.08 0 0 1 662.98,842.9" fill="none" stroke="#c8c8c8" stroke-width="1"/>
<path d="M585.9,688.75 A154.15,154.15 0 0 1 740.05,842.9" fill="none" stroke="#c8c8c8" stroke-width="1"/>
<path d="M585.9,611.67 A231.23,231.23 0 0 1 817.12,842.9" fill="none" stroke="#c8c8c8" stroke-width="1"/>
<g clip-path="url(#clip3)" fill="none" stroke="#e04848" stroke-width="1.2"><circle cx="740.05" cy="842.9" r="77.08"/><circle cx="740.05" cy="842.9" r="154.15"/><circle cx="740.05" cy="842.9" r="231.23"/><circle cx="740.05" cy="842.9" r="308.3"/></g>
<rect x="620.8" y="552.45" width="13" height="10" fill="#fff"/>
<text x="627.3" y="561.95" font-size="12.5" text-anchor="middle">2</text>
<rect x="682.2" y="613.75" width="24" height="10" fill="#fff"/>
<text x="694.2" y="623.25" font-size="12.5" text-anchor="middle">1.5</text>
<rect x="737" y="684.65" width="13" height="10" fill="#fff"/>
<text x="743.5" y="694.15" font-size="12.5" text-anchor="middle">1</text>
<rect x="736.7" y="761.65" width="24" height="10" fill="#fff"/>
<text x="748.7" y="771.15" font-size="12.5" text-anchor="middle">0.5</text>
<path d="M585.9,842.9 H886.2 M585.9,842.9 V542.6" stroke="#8c8c8c" stroke-width="1.3" fill="none"/>
<path d="M624.44,842.9 v-3 M585.9,804.36 h3 M662.98,842.9 v-3 M585.9,765.82 h3 M701.51,842.9 v-3 M585.9,727.29 h3 M740.05,842.9 v-3 M585.9,688.75 h3 M778.59,842.9 v-3 M585.9,650.21 h3 M817.12,842.9 v-3 M585.9,611.67 h3 M855.66,842.9 v-3 M585.9,573.14 h3" stroke="#8c8c8c" stroke-width="1" fill="none"/>
<path d="M585.9,534.6 A308.3,308.3 0 0 1 894.2,842.9" fill="none" stroke="#000" stroke-width="2"/>
<path d="M585.9,534.6 L585.9,542.1 M616.73,536.15 L615.98,543.61 M647.56,540.83 L646.06,548.18 M678.39,548.8 L676.14,555.96 M709.22,560.34 L706.22,567.21 M740.05,575.9 L736.3,582.4 M770.88,596.26 L766.38,602.26 M801.71,622.73 L796.46,628.09 M832.54,657.92 L826.54,662.42 M863.37,708.52 L856.62,711.78 M878.78,746.63 L871.66,748.98 M891.12,799.41 L883.69,800.47 M894.2,842.9 L886.7,842.9" stroke="#000" stroke-width="2" fill="none"/>
<path d="M601.32,534.99 L601.09,539.48 M632.14,538.09 L631.47,542.54 M662.98,544.39 L661.85,548.75 M693.8,554.1 L692.23,558.32 M724.63,567.58 L722.61,571.6 M755.47,585.42 L752.99,589.18 M786.29,608.61 L783.37,612.03 M817.12,638.98 L813.75,641.96 M847.95,680.49 L844.13,682.86 M866.45,715.08 L862.36,716.94 M869.54,722.07 L865.4,723.84 M872.62,729.58 L868.43,731.24 M875.7,737.72 L871.47,739.25 M881.87,756.58 L877.55,757.84 M884.95,767.95 L880.59,769.04 M888.03,781.55 L883.62,782.44" stroke="#000" stroke-width="1.5" fill="none"/>
<text transform="translate(585.9,529.1) rotate(-90)" x="0" y="5.2" font-size="14.5">0.0</text>
<text transform="translate(617.28,530.67) rotate(-84.26)" x="0" y="5.2" font-size="14.5">0.1</text>
<text transform="translate(648.66,535.44) rotate(-78.46)" x="0" y="5.2" font-size="14.5">0.2</text>
<text transform="translate(680.04,543.55) rotate(-72.54)" x="0" y="5.2" font-size="14.5">0.3</text>
<text transform="translate(711.42,555.3) rotate(-66.42)" x="0" y="5.2" font-size="14.5">0.4</text>
<text transform="translate(742.8,571.14) rotate(-60)" x="0" y="5.2" font-size="14.5">0.5</text>
<text transform="translate(774.18,591.86) rotate(-53.13)" x="0" y="5.2" font-size="14.5">0.6</text>
<text transform="translate(805.56,618.8) rotate(-45.57)" x="0" y="5.2" font-size="14.5">0.7</text>
<text transform="translate(836.94,654.62) rotate(-36.87)" x="0" y="5.2" font-size="14.5">0.8</text>
<text transform="translate(868.32,706.12) rotate(-25.84)" x="0" y="5.2" font-size="14.5">0.9</text>
<text transform="translate(884.01,744.92) rotate(-18.19)" x="0" y="5.2" font-size="14.5">0.95</text>
<text transform="translate(896.56,798.63) rotate(-8.11)" x="0" y="5.2" font-size="14.5">0.99</text>
<text transform="translate(899.7,842.9) rotate(-0)" x="0" y="5.2" font-size="14.5">1</text>
<text x="579.9" y="848.1" font-size="14.5" text-anchor="end">0.00</text>
<text x="585.9" y="863.6" font-size="14.5" text-anchor="middle">0.00</text>
<text x="579.9" y="809.56" font-size="14.5" text-anchor="end">0.25</text>
<text x="624.44" y="863.6" font-size="14.5" text-anchor="middle">0.25</text>
<text x="579.9" y="771.02" font-size="14.5" text-anchor="end">0.50</text>
<text x="662.98" y="863.6" font-size="14.5" text-anchor="middle">0.50</text>
<text x="579.9" y="732.49" font-size="14.5" text-anchor="end">0.75</text>
<text x="701.51" y="863.6" font-size="14.5" text-anchor="middle">0.75</text>
<text x="579.9" y="693.95" font-size="14.5" text-anchor="end">1.00</text>
<text x="740.05" y="863.6" font-size="14.5" text-anchor="middle">1.00</text>
<text x="579.9" y="655.41" font-size="14.5" text-anchor="end">1.25</text>
<text x="778.59" y="863.6" font-size="14.5" text-anchor="middle">1.25</text>
<text x="579.9" y="616.88" font-size="14.5" text-anchor="end">1.50</text>
<text x="817.12" y="863.6" font-size="14.5" text-anchor="middle">1.50</text>
<text x="579.9" y="578.34" font-size="14.5" text-anchor="end">1.75</text>
<text x="855.66" y="863.6" font-size="14.5" text-anchor="middle">1.75</text>
<text transform="translate(831.79,590.05) rotate(45)" y="5.3" font-size="15" text-anchor="middle">Correlation</text>
<text transform="translate(545.1,688.4) rotate(-90)" font-size="15.7" text-anchor="middle">Standard deviation (normalized)</text>
<rect x="782.6" y="477.3" width="100.5" height="67" fill="#fff" stroke="#777" stroke-width="1"/>
<circle cx="803.4" cy="487.3" r="4.2" fill="#ff0000"/>
<text x="823.7" y="491.7" font-size="12.5">HYCOM</text>
<circle cx="803.4" cy="503.53" r="4.2" fill="#0000ff"/>
<text x="823.7" y="507.93" font-size="12.5">MRI.COM</text>
<circle cx="803.4" cy="519.76" r="4.2" fill="#d2691e"/>
<text x="823.7" y="524.16" font-size="12.5">OFES</text>
<circle cx="803.4" cy="535.99" r="4.2" fill="#00ff00"/>
<text x="823.7" y="540.39" font-size="12.5">NEMO</text>
<rect x="882.5" y="477" width="81.7" height="137.2" fill="#fff" stroke="#777" stroke-width="1"/>
<circle cx="903.5" cy="487.4" r="4.2" fill="#000000"/>
<text x="924.8" y="491.8" font-size="12.5">10 m</text>
<polygon points="903.5,499.93 898.77,508.33 908.23,508.33" fill="#000000"/>
<text x="924.8" y="508.53" font-size="12.5">30m</text>
<polygon points="903.5,516.36 904.69,519.67 908.21,519.78 905.43,521.94 906.41,525.31 903.5,523.34 900.59,525.31 901.57,521.94 898.79,519.78 902.31,519.67" fill="#000000"/>
<text x="924.8" y="525.26" font-size="12.5">50 m</text>
<rect x="900.05" y="534.14" width="6.9" height="6.9" fill="#000000"/>
<text x="924.8" y="541.99" font-size="12.5">80 m</text>
<circle cx="903.5" cy="554.32" r="3.6" fill="none" stroke="#000000" stroke-width="1.4"/>
<text x="924.8" y="558.72" font-size="12.5">100 m</text>
<polygon points="903.5,567.3 899.15,574.8 907.85,574.8" fill="none" stroke="#000000" stroke-width="1.4" stroke-linejoin="miter"/>
<text x="924.8" y="575.45" font-size="12.5">150 m</text>
<polygon points="903.5,583.73 904.65,586.65 907.78,586.84 905.35,588.83 906.15,591.87 903.5,590.18 900.85,591.87 901.65,588.83 899.22,586.84 902.35,586.65" fill="none" stroke="#000000" stroke-width="1.3" stroke-linejoin="miter"/>
<text x="924.8" y="592.18" font-size="12.5">200 m</text>
<rect x="900.35" y="601.36" width="6.3" height="6.3" fill="none" stroke="#000000" stroke-width="1.3"/>
<text x="924.8" y="608.91" font-size="12.5">250 m</text>
<circle cx="740.05" cy="842.9" r="4.3" fill="#000"/>
<polygon points="671.2,561.8 672.73,565.7 676.91,565.95 673.67,568.6 674.73,572.65 671.2,570.4 667.67,572.65 668.73,568.6 665.49,565.95 669.67,565.7" fill="none" stroke="#ff0000" stroke-width="1.3" stroke-linejoin="miter"/>
<polygon points="822,568.4 823.53,572.3 827.71,572.55 824.47,575.2 825.53,579.25 822,577 818.47,579.25 819.53,575.2 816.29,572.55 820.47,572.3" fill="none" stroke="#0000ff" stroke-width="1.3" stroke-linejoin="miter"/>
<polygon points="850.3,632 851.83,635.9 856.01,636.15 852.77,638.8 853.83,642.85 850.3,640.6 846.77,642.85 847.83,638.8 844.59,636.15 848.77,635.9" fill="none" stroke="#00ff00" stroke-width="1.3" stroke-linejoin="miter"/>
<rect x="605" y="656.1" width="9.2" height="9.2" fill="#0000ff"/>
<polygon points="638.1,673.3 639.69,677.72 644.38,677.86 640.67,680.73 641.98,685.24 638.1,682.6 634.22,685.24 635.53,680.73 631.82,677.86 636.51,677.72" fill="#0000ff"/>
<polygon points="691.5,690.6 685.7,700.6 697.3,700.6" fill="none" stroke="#0000ff" stroke-width="1.4" stroke-linejoin="miter"/>
<polygon points="804.8,688.5 798.5,699.7 811.1,699.7" fill="#00ff00"/>
<polygon points="623,697.7 617.2,707.7 628.8,707.7" fill="none" stroke="#ff0000" stroke-width="1.4" stroke-linejoin="miter"/>
<rect x="622.6" y="700" width="9.2" height="9.2" fill="#ff0000"/>
<polygon points="717.1,702.1 711.3,712.1 722.9,712.1" fill="none" stroke="#00ff00" stroke-width="1.4" stroke-linejoin="miter"/>
<circle cx="597.1" cy="710.7" r="4.8" fill="none" stroke="#0000ff" stroke-width="1.4"/>
<circle cx="784.2" cy="716.4" r="5.6" fill="#00ff00"/>
<polygon points="761.1,721.6 762.69,726.02 767.38,726.16 763.67,729.03 764.98,733.54 761.1,730.9 757.22,733.54 758.53,729.03 754.82,726.16 759.51,726.02" fill="#ff0000"/>
<polygon points="662.2,723.7 655.9,734.9 668.5,734.9" fill="#d2691e"/>
<circle cx="680.7" cy="737.9" r="5.6" fill="#d2691e"/>
<circle cx="604.5" cy="749.8" r="4.8" fill="none" stroke="#ff0000" stroke-width="1.4"/>
<circle cx="640.6" cy="771.3" r="5.6" fill="#0000ff"/>
<polygon points="616.4,786.2 610.1,797.4 622.7,797.4" fill="#0000ff"/>
<polygon points="684.3,786.2 678,797.4 690.6,797.4" fill="#ff0000"/>
<circle cx="641.4" cy="801.5" r="5.6" fill="#ff0000"/>
<clipPath id="clip4"><path d="M123.3,1256.3 L123.3,948 A308.3,308.3 0 0 1 431.6,1256.3 Z"/></clipPath>
<path d="M123.3,1179.22 A77.08,77.08 0 0 1 200.38,1256.3" fill="none" stroke="#c8c8c8" stroke-width="1"/>
<path d="M123.3,1102.15 A154.15,154.15 0 0 1 277.45,1256.3" fill="none" stroke="#c8c8c8" stroke-width="1"/>
<path d="M123.3,1025.07 A231.23,231.23 0 0 1 354.53,1256.3" fill="none" stroke="#c8c8c8" stroke-width="1"/>
<g clip-path="url(#clip4)" fill="none" stroke="#e04848" stroke-width="1.2"><circle cx="277.45" cy="1256.3" r="77.08"/><circle cx="277.45" cy="1256.3" r="154.15"/><circle cx="277.45" cy="1256.3" r="231.23"/><circle cx="277.45" cy="1256.3" r="308.3"/></g>
<rect x="158.2" y="965.85" width="13" height="10" fill="#fff"/>
<text x="164.7" y="975.35" font-size="12.5" text-anchor="middle">2</text>
<rect x="219.6" y="1027.15" width="24" height="10" fill="#fff"/>
<text x="231.6" y="1036.65" font-size="12.5" text-anchor="middle">1.5</text>
<rect x="274.4" y="1098.05" width="13" height="10" fill="#fff"/>
<text x="280.9" y="1107.55" font-size="12.5" text-anchor="middle">1</text>
<rect x="274.1" y="1175.05" width="24" height="10" fill="#fff"/>
<text x="286.1" y="1184.55" font-size="12.5" text-anchor="middle">0.5</text>
<path d="M123.3,1256.3 H423.6 M123.3,1256.3 V956" stroke="#8c8c8c" stroke-width="1.3" fill="none"/>
<path d="M161.84,1256.3 v-3 M123.3,1217.76 h3 M200.38,1256.3 v-3 M123.3,1179.22 h3 M238.91,1256.3 v-3 M123.3,1140.69 h3 M277.45,1256.3 v-3 M123.3,1102.15 h3 M315.99,1256.3 v-3 M123.3,1063.61 h3 M354.53,1256.3 v-3 M123.3,1025.07 h3 M393.06,1256.3 v-3 M123.3,986.54 h3" stroke="#8c8c8c" stroke-width="1" fill="none"/>
<path d="M123.3,948 A308.3,308.3 0 0 1 431.6,1256.3" fill="none" stroke="#000" stroke-width="2"/>
<path d="M123.3,948 L123.3,955.5 M154.13,949.55 L153.38,957.01 M184.96,954.23 L183.46,961.58 M215.79,962.2 L213.54,969.36 M246.62,973.74 L243.62,980.61 M277.45,989.3 L273.7,995.8 M308.28,1009.66 L303.78,1015.66 M339.11,1036.13 L333.86,1041.49 M369.94,1071.32 L363.94,1075.82 M400.77,1121.92 L394.02,1125.18 M416.19,1160.03 L409.06,1162.38 M428.52,1212.81 L421.09,1213.87 M431.6,1256.3 L424.1,1256.3" stroke="#000" stroke-width="2" fill="none"/>
<path d="M138.72,948.39 L138.49,952.88 M169.54,951.49 L168.87,955.94 M200.38,957.79 L199.25,962.15 M231.21,967.5 L229.63,971.72 M262.04,980.98 L260.01,985 M292.87,998.82 L290.39,1002.58 M323.69,1022.01 L320.77,1025.43 M354.53,1052.38 L351.15,1055.36 M385.36,1093.89 L381.53,1096.26 M403.85,1128.48 L399.76,1130.34 M406.94,1135.47 L402.8,1137.24 M410.02,1142.98 L405.83,1144.64 M413.1,1151.12 L408.87,1152.65 M419.27,1169.98 L414.95,1171.24 M422.35,1181.35 L417.99,1182.44 M425.43,1194.95 L421.02,1195.84" stroke="#000" stroke-width="1.5" fill="none"/>
<text transform="translate(123.3,942.5) rotate(-90)" x="0" y="5.2" font-size="14.5">0.0</text>
<text transform="translate(154.68,944.07) rotate(-84.26)" x="0" y="5.2" font-size="14.5">0.1</text>
<text transform="translate(186.06,948.84) rotate(-78.46)" x="0" y="5.2" font-size="14.5">0.2</text>
<text transform="translate(217.44,956.95) rotate(-72.54)" x="0" y="5.2" font-size="14.5">0.3</text>
<text transform="translate(248.82,968.7) rotate(-66.42)" x="0" y="5.2" font-size="14.5">0.4</text>
<text transform="translate(280.2,984.54) rotate(-60)" x="0" y="5.2" font-size="14.5">0.5</text>
<text transform="translate(311.58,1005.26) rotate(-53.13)" x="0" y="5.2" font-size="14.5">0.6</text>
<text transform="translate(342.96,1032.2) rotate(-45.57)" x="0" y="5.2" font-size="14.5">0.7</text>
<text transform="translate(374.34,1068.02) rotate(-36.87)" x="0" y="5.2" font-size="14.5">0.8</text>
<text transform="translate(405.72,1119.52) rotate(-25.84)" x="0" y="5.2" font-size="14.5">0.9</text>
<text transform="translate(421.41,1158.32) rotate(-18.19)" x="0" y="5.2" font-size="14.5">0.95</text>
<text transform="translate(433.96,1212.03) rotate(-8.11)" x="0" y="5.2" font-size="14.5">0.99</text>
<text transform="translate(437.1,1256.3) rotate(-0)" x="0" y="5.2" font-size="14.5">1</text>
<text x="117.3" y="1261.5" font-size="14.5" text-anchor="end">0.00</text>
<text x="123.3" y="1277" font-size="14.5" text-anchor="middle">0.00</text>
<text x="117.3" y="1222.96" font-size="14.5" text-anchor="end">0.25</text>
<text x="161.84" y="1277" font-size="14.5" text-anchor="middle">0.25</text>
<text x="117.3" y="1184.42" font-size="14.5" text-anchor="end">0.50</text>
<text x="200.38" y="1277" font-size="14.5" text-anchor="middle">0.50</text>
<text x="117.3" y="1145.89" font-size="14.5" text-anchor="end">0.75</text>
<text x="238.91" y="1277" font-size="14.5" text-anchor="middle">0.75</text>
<text x="117.3" y="1107.35" font-size="14.5" text-anchor="end">1.00</text>
<text x="277.45" y="1277" font-size="14.5" text-anchor="middle">1.00</text>
<text x="117.3" y="1068.81" font-size="14.5" text-anchor="end">1.25</text>
<text x="315.99" y="1277" font-size="14.5" text-anchor="middle">1.25</text>
<text x="117.3" y="1030.27" font-size="14.5" text-anchor="end">1.50</text>
<text x="354.53" y="1277" font-size="14.5" text-anchor="middle">1.50</text>
<text x="117.3" y="991.74" font-size="14.5" text-anchor="end">1.75</text>
<text x="393.06" y="1277" font-size="14.5" text-anchor="middle">1.75</text>
<text transform="translate(369.19,1003.45) rotate(45)" y="5.3" font-size="15" text-anchor="middle">Correlation</text>
<text transform="translate(82.5,1101.8) rotate(-90)" font-size="15.7" text-anchor="middle">Standard deviation (normalized)</text>
<text transform="translate(23.6,1104.7) rotate(-90)" font-size="30" font-weight="bold" text-anchor="middle">Yamato Basin (J1)</text>
<rect x="316" y="887.5" width="100.5" height="67" fill="#fff" stroke="#777" stroke-width="1"/>
<circle cx="336.8" cy="897.5" r="4.2" fill="#ff0000"/>
<text x="357.1" y="901.9" font-size="12.5">HYCOM</text>
<circle cx="336.8" cy="913.73" r="4.2" fill="#0000ff"/>
<text x="357.1" y="918.13" font-size="12.5">MRI.COM</text>
<circle cx="336.8" cy="929.96" r="4.2" fill="#d2691e"/>
<text x="357.1" y="934.36" font-size="12.5">OFES</text>
<circle cx="336.8" cy="946.19" r="4.2" fill="#00ff00"/>
<text x="357.1" y="950.59" font-size="12.5">NEMO</text>
<rect x="416.7" y="887.5" width="81.7" height="137.2" fill="#fff" stroke="#777" stroke-width="1"/>
<circle cx="437.7" cy="897.9" r="4.2" fill="#000000"/>
<text x="459" y="902.3" font-size="12.5">10 m</text>
<polygon points="437.7,910.43 432.97,918.83 442.43,918.83" fill="#000000"/>
<text x="459" y="919.03" font-size="12.5">30m</text>
<polygon points="437.7,926.86 438.89,930.17 442.41,930.28 439.63,932.44 440.61,935.81 437.7,933.84 434.79,935.81 435.77,932.44 432.99,930.28 436.51,930.17" fill="#000000"/>
<text x="459" y="935.76" font-size="12.5">50 m</text>
<rect x="434.25" y="944.64" width="6.9" height="6.9" fill="#000000"/>
<text x="459" y="952.49" font-size="12.5">80 m</text>
<circle cx="437.7" cy="964.82" r="3.6" fill="none" stroke="#000000" stroke-width="1.4"/>
<text x="459" y="969.22" font-size="12.5">100 m</text>
<polygon points="437.7,977.8 433.35,985.3 442.05,985.3" fill="none" stroke="#000000" stroke-width="1.4" stroke-linejoin="miter"/>
<text x="459" y="985.95" font-size="12.5">150 m</text>
<polygon points="437.7,994.23 438.85,997.15 441.98,997.34 439.55,999.33 440.35,1002.37 437.7,1000.68 435.05,1002.37 435.85,999.33 433.42,997.34 436.55,997.15" fill="none" stroke="#000000" stroke-width="1.3" stroke-linejoin="miter"/>
<text x="459" y="1002.68" font-size="12.5">200 m</text>
<rect x="434.55" y="1011.86" width="6.3" height="6.3" fill="none" stroke="#000000" stroke-width="1.3"/>
<text x="459" y="1019.41" font-size="12.5">250 m</text>
<circle cx="277.45" cy="1256.3" r="4.3" fill="#000"/>
<polygon points="253.7,1077.8 247.9,1087.8 259.5,1087.8" fill="none" stroke="#ff0000" stroke-width="1.4" stroke-linejoin="miter"/>
<circle cx="247.3" cy="1095.3" r="4.8" fill="none" stroke="#ff0000" stroke-width="1.4"/>
<rect x="251.2" y="1110.8" width="9.2" height="9.2" fill="#ff0000"/>
<circle cx="252.8" cy="1127.7" r="5.6" fill="#0000ff"/>
<polygon points="245.6,1134.5 239.3,1145.7 251.9,1145.7" fill="#0000ff"/>
<polygon points="262.5,1143.5 264.09,1147.92 268.78,1148.06 265.07,1150.93 266.38,1155.44 262.5,1152.8 258.62,1155.44 259.93,1150.93 256.22,1148.06 260.91,1147.92" fill="#ff0000"/>
<polygon points="169.3,1121.9 170.83,1125.8 175.01,1126.05 171.77,1128.7 172.83,1132.75 169.3,1130.5 165.77,1132.75 166.83,1128.7 163.59,1126.05 167.77,1125.8" fill="none" stroke="#00ff00" stroke-width="1.3" stroke-linejoin="miter"/>
<rect x="159.5" y="1133.2" width="8.4" height="8.4" fill="none" stroke="#00ff00" stroke-width="1.3"/>
<polygon points="163.1,1144.5 157.3,1154.5 168.9,1154.5" fill="none" stroke="#00ff00" stroke-width="1.4" stroke-linejoin="miter"/>
<polygon points="224.1,1139.7 225.69,1144.12 230.38,1144.26 226.67,1147.13 227.98,1151.64 224.1,1149 220.22,1151.64 221.53,1147.13 217.82,1144.26 222.51,1144.12" fill="#0000ff"/>
<circle cx="215.6" cy="1151.5" r="4.8" fill="none" stroke="#00ff00" stroke-width="1.4"/>
<polygon points="206.9,1150.1 208.43,1154 212.61,1154.25 209.37,1156.9 210.43,1160.95 206.9,1158.7 203.37,1160.95 204.43,1156.9 201.19,1154.25 205.37,1154" fill="none" stroke="#ff0000" stroke-width="1.3" stroke-linejoin="miter"/>
<rect x="246.2" y="1163.3" width="9.2" height="9.2" fill="#00ff00"/>
<rect x="193.2" y="1167.1" width="9.2" height="9.2" fill="#0000ff"/>
<rect x="173.1" y="1174.9" width="8.4" height="8.4" fill="none" stroke="#0000ff" stroke-width="1.3"/>
<circle cx="194.5" cy="1182.5" r="4.8" fill="none" stroke="#0000ff" stroke-width="1.4"/>
<polygon points="266.9,1173.9 261.1,1183.9 272.7,1183.9" fill="none" stroke="#d2691e" stroke-width="1.4" stroke-linejoin="miter"/>
<polygon points="261.8,1181.6 255.5,1192.8 268.1,1192.8" fill="#ff0000"/>
<polygon points="172.9,1187.2 174.43,1191.1 178.61,1191.35 175.37,1194 176.43,1198.05 172.9,1195.8 169.37,1198.05 170.43,1194 167.19,1191.35 171.37,1191.1" fill="none" stroke="#0000ff" stroke-width="1.3" stroke-linejoin="miter"/>
<polygon points="176.7,1191.6 170.9,1201.6 182.5,1201.6" fill="none" stroke="#0000ff" stroke-width="1.4" stroke-linejoin="miter"/>
<rect x="230.7" y="1191.1" width="8.4" height="8.4" fill="none" stroke="#d2691e" stroke-width="1.3"/>
<polygon points="246.3,1187.9 247.83,1191.8 252.01,1192.05 248.77,1194.7 249.83,1198.75 246.3,1196.5 242.77,1198.75 243.83,1194.7 240.59,1192.05 244.77,1191.8" fill="none" stroke="#d2691e" stroke-width="1.3" stroke-linejoin="miter"/>
<rect x="162.9" y="1200.5" width="8.4" height="8.4" fill="none" stroke="#ff0000" stroke-width="1.3"/>
<circle cx="285.9" cy="1167.6" r="4.8" fill="none" stroke="#d2691e" stroke-width="1.4"/>
<rect x="295.8" y="1176.5" width="9.2" height="9.2" fill="#d2691e"/>
<circle cx="278.1" cy="1199.5" r="5.6" fill="#ff0000"/>
<circle cx="288" cy="1200.6" r="5.6" fill="#d2691e"/>
<polygon points="298,1190.1 299.59,1194.52 304.28,1194.66 300.57,1197.53 301.88,1202.04 298,1199.4 294.12,1202.04 295.43,1197.53 291.72,1194.66 296.41,1194.52" fill="#00ff00"/>
<polygon points="299.7,1202.4 293.4,1213.6 306,1213.6" fill="#d2691e"/>
<circle cx="278.4" cy="1211.9" r="5.6" fill="#00ff00"/>
<polygon points="290.6,1214.4 284.3,1225.6 296.9,1225.6" fill="#00ff00"/>
<polygon points="318.5,1206.7 320.09,1211.12 324.78,1211.26 321.07,1214.13 322.38,1218.64 318.5,1216 314.62,1218.64 315.93,1214.13 312.22,1211.26 316.91,1211.12" fill="#d2691e"/>
<clipPath id="clip5"><path d="M585.4,1253.7 L585.4,945.4 A308.3,308.3 0 0 1 893.7,1253.7 Z"/></clipPath>
<path d="M585.4,1176.62 A77.08,77.08 0 0 1 662.48,1253.7" fill="none" stroke="#c8c8c8" stroke-width="1"/>
<path d="M585.4,1099.55 A154.15,154.15 0 0 1 739.55,1253.7" fill="none" stroke="#c8c8c8" stroke-width="1"/>
<path d="M585.4,1022.48 A231.23,231.23 0 0 1 816.62,1253.7" fill="none" stroke="#c8c8c8" stroke-width="1"/>
<g clip-path="url(#clip5)" fill="none" stroke="#e04848" stroke-width="1.2"><circle cx="739.55" cy="1253.7" r="77.08"/><circle cx="739.55" cy="1253.7" r="154.15"/><circle cx="739.55" cy="1253.7" r="231.23"/><circle cx="739.55" cy="1253.7" r="308.3"/></g>
<rect x="620.3" y="963.25" width="13" height="10" fill="#fff"/>
<text x="626.8" y="972.75" font-size="12.5" text-anchor="middle">2</text>
<rect x="681.7" y="1024.55" width="24" height="10" fill="#fff"/>
<text x="693.7" y="1034.05" font-size="12.5" text-anchor="middle">1.5</text>
<rect x="736.5" y="1095.45" width="13" height="10" fill="#fff"/>
<text x="743" y="1104.95" font-size="12.5" text-anchor="middle">1</text>
<rect x="736.2" y="1172.45" width="24" height="10" fill="#fff"/>
<text x="748.2" y="1181.95" font-size="12.5" text-anchor="middle">0.5</text>
<path d="M585.4,1253.7 H885.7 M585.4,1253.7 V953.4" stroke="#8c8c8c" stroke-width="1.3" fill="none"/>
<path d="M623.94,1253.7 v-3 M585.4,1215.16 h3 M662.48,1253.7 v-3 M585.4,1176.62 h3 M701.01,1253.7 v-3 M585.4,1138.09 h3 M739.55,1253.7 v-3 M585.4,1099.55 h3 M778.09,1253.7 v-3 M585.4,1061.01 h3 M816.62,1253.7 v-3 M585.4,1022.48 h3 M855.16,1253.7 v-3 M585.4,983.94 h3" stroke="#8c8c8c" stroke-width="1" fill="none"/>
<path d="M585.4,945.4 A308.3,308.3 0 0 1 893.7,1253.7" fill="none" stroke="#000" stroke-width="2"/>
<path d="M585.4,945.4 L585.4,952.9 M616.23,946.95 L615.48,954.41 M647.06,951.63 L645.56,958.98 M677.89,959.6 L675.64,966.76 M708.72,971.14 L705.72,978.01 M739.55,986.7 L735.8,993.2 M770.38,1007.06 L765.88,1013.06 M801.21,1033.53 L795.96,1038.89 M832.04,1068.72 L826.04,1073.22 M862.87,1119.32 L856.12,1122.58 M878.28,1157.43 L871.16,1159.78 M890.62,1210.21 L883.19,1211.27 M893.7,1253.7 L886.2,1253.7" stroke="#000" stroke-width="2" fill="none"/>
<path d="M600.82,945.79 L600.59,950.28 M631.64,948.89 L630.97,953.34 M662.48,955.19 L661.35,959.55 M693.3,964.9 L691.73,969.12 M724.13,978.38 L722.11,982.4 M754.97,996.22 L752.49,999.98 M785.79,1019.41 L782.87,1022.83 M816.62,1049.78 L813.25,1052.76 M847.45,1091.29 L843.63,1093.66 M865.95,1125.88 L861.86,1127.74 M869.04,1132.87 L864.9,1134.64 M872.12,1140.38 L867.93,1142.04 M875.2,1148.52 L870.97,1150.05 M881.37,1167.38 L877.05,1168.64 M884.45,1178.75 L880.09,1179.84 M887.53,1192.35 L883.12,1193.24" stroke="#000" stroke-width="1.5" fill="none"/>
<text transform="translate(585.4,939.9) rotate(-90)" x="0" y="5.2" font-size="14.5">0.0</text>
<text transform="translate(616.78,941.47) rotate(-84.26)" x="0" y="5.2" font-size="14.5">0.1</text>
<text transform="translate(648.16,946.24) rotate(-78.46)" x="0" y="5.2" font-size="14.5">0.2</text>
<text transform="translate(679.54,954.35) rotate(-72.54)" x="0" y="5.2" font-size="14.5">0.3</text>
<text transform="translate(710.92,966.1) rotate(-66.42)" x="0" y="5.2" font-size="14.5">0.4</text>
<text transform="translate(742.3,981.94) rotate(-60)" x="0" y="5.2" font-size="14.5">0.5</text>
<text transform="translate(773.68,1002.66) rotate(-53.13)" x="0" y="5.2" font-size="14.5">0.6</text>
<text transform="translate(805.06,1029.6) rotate(-45.57)" x="0" y="5.2" font-size="14.5">0.7</text>
<text transform="translate(836.44,1065.42) rotate(-36.87)" x="0" y="5.2" font-size="14.5">0.8</text>
<text transform="translate(867.82,1116.92) rotate(-25.84)" x="0" y="5.2" font-size="14.5">0.9</text>
<text transform="translate(883.51,1155.72) rotate(-18.19)" x="0" y="5.2" font-size="14.5">0.95</text>
<text transform="translate(896.06,1209.43) rotate(-8.11)" x="0" y="5.2" font-size="14.5">0.99</text>
<text transform="translate(899.2,1253.7) rotate(-0)" x="0" y="5.2" font-size="14.5">1</text>
<text x="579.4" y="1258.9" font-size="14.5" text-anchor="end">0.00</text>
<text x="585.4" y="1274.4" font-size="14.5" text-anchor="middle">0.00</text>
<text x="579.4" y="1220.36" font-size="14.5" text-anchor="end">0.25</text>
<text x="623.94" y="1274.4" font-size="14.5" text-anchor="middle">0.25</text>
<text x="579.4" y="1181.83" font-size="14.5" text-anchor="end">0.50</text>
<text x="662.48" y="1274.4" font-size="14.5" text-anchor="middle">0.50</text>
<text x="579.4" y="1143.29" font-size="14.5" text-anchor="end">0.75</text>
<text x="701.01" y="1274.4" font-size="14.5" text-anchor="middle">0.75</text>
<text x="579.4" y="1104.75" font-size="14.5" text-anchor="end">1.00</text>
<text x="739.55" y="1274.4" font-size="14.5" text-anchor="middle">1.00</text>
<text x="579.4" y="1066.21" font-size="14.5" text-anchor="end">1.25</text>
<text x="778.09" y="1274.4" font-size="14.5" text-anchor="middle">1.25</text>
<text x="579.4" y="1027.67" font-size="14.5" text-anchor="end">1.50</text>
<text x="816.62" y="1274.4" font-size="14.5" text-anchor="middle">1.50</text>
<text x="579.4" y="989.14" font-size="14.5" text-anchor="end">1.75</text>
<text x="855.16" y="1274.4" font-size="14.5" text-anchor="middle">1.75</text>
<text transform="translate(831.29,1000.85) rotate(45)" y="5.3" font-size="15" text-anchor="middle">Correlation</text>
<text transform="translate(544.6,1099.2) rotate(-90)" font-size="15.7" text-anchor="middle">Standard deviation (normalized)</text>
<rect x="778.7" y="884.6" width="100.5" height="67" fill="#fff" stroke="#777" stroke-width="1"/>
<circle cx="799.5" cy="894.6" r="4.2" fill="#ff0000"/>
<text x="819.8" y="899" font-size="12.5">HYCOM</text>
<circle cx="799.5" cy="910.83" r="4.2" fill="#0000ff"/>
<text x="819.8" y="915.23" font-size="12.5">MRI.COM</text>
<circle cx="799.5" cy="927.06" r="4.2" fill="#d2691e"/>
<text x="819.8" y="931.46" font-size="12.5">OFES</text>
<circle cx="799.5" cy="943.29" r="4.2" fill="#00ff00"/>
<text x="819.8" y="947.69" font-size="12.5">NEMO</text>
<rect x="878.8" y="884.6" width="81.7" height="137.2" fill="#fff" stroke="#777" stroke-width="1"/>
<circle cx="899.8" cy="895" r="4.2" fill="#000000"/>
<text x="921.1" y="899.4" font-size="12.5">10 m</text>
<polygon points="899.8,907.53 895.07,915.93 904.52,915.93" fill="#000000"/>
<text x="921.1" y="916.13" font-size="12.5">30m</text>
<polygon points="899.8,923.96 900.99,927.27 904.51,927.38 901.73,929.54 902.71,932.91 899.8,930.94 896.89,932.91 897.87,929.54 895.09,927.38 898.61,927.27" fill="#000000"/>
<text x="921.1" y="932.86" font-size="12.5">50 m</text>
<rect x="896.35" y="941.74" width="6.9" height="6.9" fill="#000000"/>
<text x="921.1" y="949.59" font-size="12.5">80 m</text>
<circle cx="899.8" cy="961.92" r="3.6" fill="none" stroke="#000000" stroke-width="1.4"/>
<text x="921.1" y="966.32" font-size="12.5">100 m</text>
<polygon points="899.8,974.9 895.45,982.4 904.15,982.4" fill="none" stroke="#000000" stroke-width="1.4" stroke-linejoin="miter"/>
<text x="921.1" y="983.05" font-size="12.5">150 m</text>
<polygon points="899.8,991.33 900.95,994.25 904.08,994.44 901.65,996.43 902.45,999.47 899.8,997.78 897.15,999.47 897.95,996.43 895.52,994.44 898.65,994.25" fill="none" stroke="#000000" stroke-width="1.3" stroke-linejoin="miter"/>
<text x="921.1" y="999.78" font-size="12.5">200 m</text>
<rect x="896.65" y="1008.96" width="6.3" height="6.3" fill="none" stroke="#000000" stroke-width="1.3"/>
<text x="921.1" y="1016.51" font-size="12.5">250 m</text>
<circle cx="739.55" cy="1253.7" r="4.3" fill="#000"/>
<polygon points="673.9,1024.2 667.6,1035.4 680.2,1035.4" fill="#d2691e"/>
<polygon points="692.3,1044.7 693.89,1049.12 698.58,1049.26 694.87,1052.13 696.18,1056.64 692.3,1054 688.42,1056.64 689.73,1052.13 686.02,1049.26 690.71,1049.12" fill="#ff0000"/>
<polygon points="604.8,1083.8 606.39,1088.22 611.08,1088.36 607.37,1091.23 608.68,1095.74 604.8,1093.1 600.92,1095.74 602.23,1091.23 598.52,1088.36 603.21,1088.22" fill="#0000ff"/>
<polygon points="685.4,1093.2 679.1,1104.4 691.7,1104.4" fill="#00ff00"/>
<circle cx="739.6" cy="1100.6" r="5.6" fill="#d2691e"/>
<circle cx="703" cy="1106.6" r="5.6" fill="#00ff00"/>
<polygon points="701.6,1111.9 695.3,1123.1 707.9,1123.1" fill="#ff0000"/>
<polygon points="724.2,1115.5 718.4,1125.5 730,1125.5" fill="none" stroke="#d2691e" stroke-width="1.4" stroke-linejoin="miter"/>
<rect x="640.2" y="1114.5" width="8.4" height="8.4" fill="none" stroke="#0000ff" stroke-width="1.3"/>
<rect x="671.9" y="1119.9" width="9.2" height="9.2" fill="#0000ff"/>
<circle cx="631.2" cy="1136.4" r="5.6" fill="#ff0000"/>
<polygon points="614,1136 615.53,1139.9 619.71,1140.15 616.47,1142.8 617.53,1146.85 614,1144.6 610.47,1146.85 611.53,1142.8 608.29,1140.15 612.47,1139.9" fill="none" stroke="#0000ff" stroke-width="1.3" stroke-linejoin="miter"/>
<circle cx="693.7" cy="1141.7" r="4.8" fill="none" stroke="#d2691e" stroke-width="1.4"/>
<polygon points="768.9,1139 770.43,1142.9 774.61,1143.15 771.37,1145.8 772.43,1149.85 768.9,1147.6 765.37,1149.85 766.43,1145.8 763.19,1143.15 767.37,1142.9" fill="none" stroke="#d2691e" stroke-width="1.3" stroke-linejoin="miter"/>
<polygon points="789.8,1134.5 791.33,1138.4 795.51,1138.65 792.27,1141.3 793.33,1145.35 789.8,1143.1 786.27,1145.35 787.33,1141.3 784.09,1138.65 788.27,1138.4" fill="none" stroke="#00ff00" stroke-width="1.3" stroke-linejoin="miter"/>
<circle cx="640.6" cy="1172" r="5.6" fill="#0000ff"/>
<rect x="763.2" y="1170" width="8.4" height="8.4" fill="none" stroke="#d2691e" stroke-width="1.3"/>
<polygon points="592.9,1198.1 586.6,1209.3 599.2,1209.3" fill="#0000ff"/>
<polygon points="623.1,1201.6 617.3,1211.6 628.9,1211.6" fill="none" stroke="#0000ff" stroke-width="1.4" stroke-linejoin="miter"/>
<polygon points="762.6,1202.8 756.8,1212.8 768.4,1212.8" fill="none" stroke="#00ff00" stroke-width="1.4" stroke-linejoin="miter"/>
<circle cx="666" cy="1221.6" r="4.8" fill="none" stroke="#0000ff" stroke-width="1.4"/>
<clipPath id="clip6"><path d="M123.8,1667.3 L123.8,1359 A308.3,308.3 0 0 1 432.1,1667.3 Z"/></clipPath>
<path d="M123.8,1590.22 A77.08,77.08 0 0 1 200.88,1667.3" fill="none" stroke="#c8c8c8" stroke-width="1"/>
<path d="M123.8,1513.15 A154.15,154.15 0 0 1 277.95,1667.3" fill="none" stroke="#c8c8c8" stroke-width="1"/>
<path d="M123.8,1436.07 A231.23,231.23 0 0 1 355.03,1667.3" fill="none" stroke="#c8c8c8" stroke-width="1"/>
<g clip-path="url(#clip6)" fill="none" stroke="#e04848" stroke-width="1.2"><circle cx="277.95" cy="1667.3" r="77.08"/><circle cx="277.95" cy="1667.3" r="154.15"/><circle cx="277.95" cy="1667.3" r="231.23"/><circle cx="277.95" cy="1667.3" r="308.3"/></g>
<rect x="158.7" y="1376.85" width="13" height="10" fill="#fff"/>
<text x="165.2" y="1386.35" font-size="12.5" text-anchor="middle">2</text>
<rect x="220.1" y="1438.15" width="24" height="10" fill="#fff"/>
<text x="232.1" y="1447.65" font-size="12.5" text-anchor="middle">1.5</text>
<rect x="274.9" y="1509.05" width="13" height="10" fill="#fff"/>
<text x="281.4" y="1518.55" font-size="12.5" text-anchor="middle">1</text>
<rect x="274.6" y="1586.05" width="24" height="10" fill="#fff"/>
<text x="286.6" y="1595.55" font-size="12.5" text-anchor="middle">0.5</text>
<path d="M123.8,1667.3 H424.1 M123.8,1667.3 V1367" stroke="#8c8c8c" stroke-width="1.3" fill="none"/>
<path d="M162.34,1667.3 v-3 M123.8,1628.76 h3 M200.88,1667.3 v-3 M123.8,1590.22 h3 M239.41,1667.3 v-3 M123.8,1551.69 h3 M277.95,1667.3 v-3 M123.8,1513.15 h3 M316.49,1667.3 v-3 M123.8,1474.61 h3 M355.03,1667.3 v-3 M123.8,1436.07 h3 M393.56,1667.3 v-3 M123.8,1397.54 h3" stroke="#8c8c8c" stroke-width="1" fill="none"/>
<path d="M123.8,1359 A308.3,308.3 0 0 1 432.1,1667.3" fill="none" stroke="#000" stroke-width="2"/>
<path d="M123.8,1359 L123.8,1366.5 M154.63,1360.55 L153.88,1368.01 M185.46,1365.23 L183.96,1372.58 M216.29,1373.2 L214.04,1380.36 M247.12,1384.74 L244.12,1391.61 M277.95,1400.3 L274.2,1406.8 M308.78,1420.66 L304.28,1426.66 M339.61,1447.13 L334.36,1452.49 M370.44,1482.32 L364.44,1486.82 M401.27,1532.92 L394.52,1536.18 M416.69,1571.03 L409.56,1573.38 M429.02,1623.81 L421.59,1624.87 M432.1,1667.3 L424.6,1667.3" stroke="#000" stroke-width="2" fill="none"/>
<path d="M139.22,1359.39 L138.99,1363.88 M170.04,1362.49 L169.37,1366.94 M200.88,1368.79 L199.75,1373.15 M231.71,1378.5 L230.13,1382.72 M262.54,1391.98 L260.51,1396 M293.37,1409.82 L290.89,1413.58 M324.19,1433.01 L321.27,1436.43 M355.03,1463.38 L351.65,1466.36 M385.86,1504.89 L382.03,1507.26 M404.35,1539.48 L400.26,1541.34 M407.44,1546.47 L403.3,1548.24 M410.52,1553.98 L406.33,1555.64 M413.6,1562.12 L409.37,1563.65 M419.77,1580.98 L415.45,1582.24 M422.85,1592.35 L418.49,1593.44 M425.93,1605.95 L421.52,1606.84" stroke="#000" stroke-width="1.5" fill="none"/>
<text transform="translate(123.8,1353.5) rotate(-90)" x="0" y="5.2" font-size="14.5">0.0</text>
<text transform="translate(155.18,1355.07) rotate(-84.26)" x="0" y="5.2" font-size="14.5">0.1</text>
<text transform="translate(186.56,1359.84) rotate(-78.46)" x="0" y="5.2" font-size="14.5">0.2</text>
<text transform="translate(217.94,1367.95) rotate(-72.54)" x="0" y="5.2" font-size="14.5">0.3</text>
<text transform="translate(249.32,1379.7) rotate(-66.42)" x="0" y="5.2" font-size="14.5">0.4</text>
<text transform="translate(280.7,1395.54) rotate(-60)" x="0" y="5.2" font-size="14.5">0.5</text>
<text transform="translate(312.08,1416.26) rotate(-53.13)" x="0" y="5.2" font-size="14.5">0.6</text>
<text transform="translate(343.46,1443.2) rotate(-45.57)" x="0" y="5.2" font-size="14.5">0.7</text>
<text transform="translate(374.84,1479.02) rotate(-36.87)" x="0" y="5.2" font-size="14.5">0.8</text>
<text transform="translate(406.22,1530.52) rotate(-25.84)" x="0" y="5.2" font-size="14.5">0.9</text>
<text transform="translate(421.91,1569.32) rotate(-18.19)" x="0" y="5.2" font-size="14.5">0.95</text>
<text transform="translate(434.46,1623.03) rotate(-8.11)" x="0" y="5.2" font-size="14.5">0.99</text>
<text transform="translate(437.6,1667.3) rotate(-0)" x="0" y="5.2" font-size="14.5">1</text>
<text x="117.8" y="1672.5" font-size="14.5" text-anchor="end">0.00</text>
<text x="123.8" y="1688" font-size="14.5" text-anchor="middle">0.00</text>
<text x="117.8" y="1633.96" font-size="14.5" text-anchor="end">0.25</text>
<text x="162.34" y="1688" font-size="14.5" text-anchor="middle">0.25</text>
<text x="117.8" y="1595.42" font-size="14.5" text-anchor="end">0.50</text>
<text x="200.88" y="1688" font-size="14.5" text-anchor="middle">0.50</text>
<text x="117.8" y="1556.89" font-size="14.5" text-anchor="end">0.75</text>
<text x="239.41" y="1688" font-size="14.5" text-anchor="middle">0.75</text>
<text x="117.8" y="1518.35" font-size="14.5" text-anchor="end">1.00</text>
<text x="277.95" y="1688" font-size="14.5" text-anchor="middle">1.00</text>
<text x="117.8" y="1479.81" font-size="14.5" text-anchor="end">1.25</text>
<text x="316.49" y="1688" font-size="14.5" text-anchor="middle">1.25</text>
<text x="117.8" y="1441.27" font-size="14.5" text-anchor="end">1.50</text>
<text x="355.03" y="1688" font-size="14.5" text-anchor="middle">1.50</text>
<text x="117.8" y="1402.74" font-size="14.5" text-anchor="end">1.75</text>
<text x="393.56" y="1688" font-size="14.5" text-anchor="middle">1.75</text>
<text transform="translate(369.69,1414.45) rotate(45)" y="5.3" font-size="15" text-anchor="middle">Correlation</text>
<text transform="translate(83,1512.8) rotate(-90)" font-size="15.7" text-anchor="middle">Standard deviation (normalized)</text>
<text transform="translate(23.6,1517.8) rotate(-90)" font-size="30" font-weight="bold" text-anchor="middle">Yamato Basin (J2)</text>
<rect x="319.2" y="1298.2" width="100.5" height="67" fill="#fff" stroke="#777" stroke-width="1"/>
<circle cx="340" cy="1308.2" r="4.2" fill="#ff0000"/>
<text x="360.3" y="1312.6" font-size="12.5">HYCOM</text>
<circle cx="340" cy="1324.43" r="4.2" fill="#0000ff"/>
<text x="360.3" y="1328.83" font-size="12.5">MRI.COM</text>
<circle cx="340" cy="1340.66" r="4.2" fill="#d2691e"/>
<text x="360.3" y="1345.06" font-size="12.5">OFES</text>
<circle cx="340" cy="1356.89" r="4.2" fill="#00ff00"/>
<text x="360.3" y="1361.29" font-size="12.5">NEMO</text>
<rect x="419.2" y="1298.2" width="81.7" height="137.2" fill="#fff" stroke="#777" stroke-width="1"/>
<circle cx="440.2" cy="1308.6" r="4.2" fill="#000000"/>
<text x="461.5" y="1313" font-size="12.5">10 m</text>
<polygon points="440.2,1321.13 435.47,1329.53 444.93,1329.53" fill="#000000"/>
<text x="461.5" y="1329.73" font-size="12.5">30m</text>
<polygon points="440.2,1337.56 441.39,1340.87 444.91,1340.98 442.13,1343.14 443.11,1346.51 440.2,1344.54 437.29,1346.51 438.27,1343.14 435.49,1340.98 439.01,1340.87" fill="#000000"/>
<text x="461.5" y="1346.46" font-size="12.5">50 m</text>
<rect x="436.75" y="1355.34" width="6.9" height="6.9" fill="#000000"/>
<text x="461.5" y="1363.19" font-size="12.5">80 m</text>
<circle cx="440.2" cy="1375.52" r="3.6" fill="none" stroke="#000000" stroke-width="1.4"/>
<text x="461.5" y="1379.92" font-size="12.5">100 m</text>
<polygon points="440.2,1388.5 435.85,1396 444.55,1396" fill="none" stroke="#000000" stroke-width="1.4" stroke-linejoin="miter"/>
<text x="461.5" y="1396.65" font-size="12.5">150 m</text>
<polygon points="440.2,1404.93 441.35,1407.85 444.48,1408.04 442.05,1410.03 442.85,1413.07 440.2,1411.38 437.55,1413.07 438.35,1410.03 435.92,1408.04 439.05,1407.85" fill="none" stroke="#000000" stroke-width="1.3" stroke-linejoin="miter"/>
<text x="461.5" y="1413.38" font-size="12.5">200 m</text>
<rect x="437.05" y="1422.56" width="6.3" height="6.3" fill="none" stroke="#000000" stroke-width="1.3"/>
<text x="461.5" y="1430.11" font-size="12.5">250 m</text>
<circle cx="277.95" cy="1667.3" r="4.3" fill="#000"/>
<rect x="269.5" y="1355.4" width="8.4" height="8.4" fill="none" stroke="#00ff00" stroke-width="1.3"/>
<polygon points="279.3,1362.4 280.83,1366.3 285.01,1366.55 281.77,1369.2 282.83,1373.25 279.3,1371 275.77,1373.25 276.83,1369.2 273.59,1366.55 277.77,1366.3" fill="none" stroke="#00ff00" stroke-width="1.3" stroke-linejoin="miter"/>
<rect x="337.8" y="1468.1" width="8.4" height="8.4" fill="none" stroke="#d2691e" stroke-width="1.3"/>
<polygon points="316.6,1504.9 318.13,1508.8 322.31,1509.05 319.07,1511.7 320.13,1515.75 316.6,1513.5 313.07,1515.75 314.13,1511.7 310.89,1509.05 315.07,1508.8" fill="none" stroke="#d2691e" stroke-width="1.3" stroke-linejoin="miter"/>
<rect x="319.5" y="1562.5" width="8.4" height="8.4" fill="none" stroke="#ff0000" stroke-width="1.3"/>
<polygon points="216,1503 210.2,1513 221.8,1513" fill="none" stroke="#00ff00" stroke-width="1.4" stroke-linejoin="miter"/>
<polygon points="209.2,1521.7 203.4,1531.7 215,1531.7" fill="none" stroke="#0000ff" stroke-width="1.4" stroke-linejoin="miter"/>
<circle cx="210.8" cy="1534.1" r="4.8" fill="none" stroke="#0000ff" stroke-width="1.4"/>
<rect x="210.8" y="1538.9" width="9.2" height="9.2" fill="#0000ff"/>
<circle cx="218.9" cy="1555.3" r="4.8" fill="none" stroke="#00ff00" stroke-width="1.4"/>
<rect x="231.3" y="1558.1" width="9.2" height="9.2" fill="#00ff00"/>
<polygon points="231.2,1574.2 232.79,1578.62 237.48,1578.76 233.77,1581.63 235.08,1586.14 231.2,1583.5 227.32,1586.14 228.63,1581.63 224.92,1578.76 229.61,1578.62" fill="#0000ff"/>
<polygon points="246.1,1580.6 247.63,1584.5 251.81,1584.75 248.57,1587.4 249.63,1591.45 246.1,1589.2 242.57,1591.45 243.63,1587.4 240.39,1584.75 244.57,1584.5" fill="none" stroke="#ff0000" stroke-width="1.3" stroke-linejoin="miter"/>
<polygon points="171.2,1576 172.73,1579.9 176.91,1580.15 173.67,1582.8 174.73,1586.85 171.2,1584.6 167.67,1586.85 168.73,1582.8 165.49,1580.15 169.67,1579.9" fill="none" stroke="#0000ff" stroke-width="1.3" stroke-linejoin="miter"/>
<rect x="168.9" y="1597.7" width="8.4" height="8.4" fill="none" stroke="#0000ff" stroke-width="1.3"/>
<polygon points="194.2,1607.5 188.4,1617.5 200,1617.5" fill="none" stroke="#ff0000" stroke-width="1.4" stroke-linejoin="miter"/>
<circle cx="187.2" cy="1617.1" r="4.8" fill="none" stroke="#ff0000" stroke-width="1.4"/>
<rect x="202.5" y="1620.6" width="9.2" height="9.2" fill="#ff0000"/>
<polygon points="236.3,1611.2 230,1622.4 242.6,1622.4" fill="#0000ff"/>
<polygon points="242.1,1610.8 243.69,1615.22 248.38,1615.36 244.67,1618.23 245.98,1622.74 242.1,1620.1 238.22,1622.74 239.53,1618.23 235.82,1615.36 240.51,1615.22" fill="#ff0000"/>
<circle cx="273.4" cy="1599.8" r="5.6" fill="#0000ff"/>
<polygon points="272.8,1562.8 267,1572.8 278.6,1572.8" fill="none" stroke="#d2691e" stroke-width="1.4" stroke-linejoin="miter"/>
<polygon points="280.3,1560.1 281.89,1564.52 286.58,1564.66 282.87,1567.53 284.18,1572.04 280.3,1569.4 276.42,1572.04 277.73,1567.53 274.02,1564.66 278.71,1564.52" fill="#00ff00"/>
<circle cx="278.2" cy="1575.2" r="4.8" fill="none" stroke="#d2691e" stroke-width="1.4"/>
<rect x="280.9" y="1573.7" width="9.2" height="9.2" fill="#d2691e"/>
<polygon points="289.4,1584.2 283.1,1595.4 295.7,1595.4" fill="#d2691e"/>
<circle cx="277" cy="1593.1" r="5.6" fill="#d2691e"/>
<circle cx="269.8" cy="1598" r="5.6" fill="#00ff00"/>
<polygon points="279.9,1593.3 273.6,1604.5 286.2,1604.5" fill="#00ff00"/>
<circle cx="295.4" cy="1600.3" r="5.6" fill="#ff0000"/>
<polygon points="275.7,1603.2 269.4,1614.4 282,1614.4" fill="#ff0000"/>
<polygon points="308.7,1592 310.29,1596.42 314.98,1596.56 311.27,1599.43 312.58,1603.94 308.7,1601.3 304.82,1603.94 306.13,1599.43 302.42,1596.56 307.11,1596.42" fill="#d2691e"/>
<clipPath id="clip7"><path d="M587.7,1664.4 L587.7,1356.1 A308.3,308.3 0 0 1 896,1664.4 Z"/></clipPath>
<path d="M587.7,1587.33 A77.08,77.08 0 0 1 664.78,1664.4" fill="none" stroke="#c8c8c8" stroke-width="1"/>
<path d="M587.7,1510.25 A154.15,154.15 0 0 1 741.85,1664.4" fill="none" stroke="#c8c8c8" stroke-width="1"/>
<path d="M587.7,1433.18 A231.23,231.23 0 0 1 818.93,1664.4" fill="none" stroke="#c8c8c8" stroke-width="1"/>
<g clip-path="url(#clip7)" fill="none" stroke="#e04848" stroke-width="1.2"><circle cx="741.85" cy="1664.4" r="77.08"/><circle cx="741.85" cy="1664.4" r="154.15"/><circle cx="741.85" cy="1664.4" r="231.23"/><circle cx="741.85" cy="1664.4" r="308.3"/></g>
<rect x="622.6" y="1373.95" width="13" height="10" fill="#fff"/>
<text x="629.1" y="1383.45" font-size="12.5" text-anchor="middle">2</text>
<rect x="684" y="1435.25" width="24" height="10" fill="#fff"/>
<text x="696" y="1444.75" font-size="12.5" text-anchor="middle">1.5</text>
<rect x="738.8" y="1506.15" width="13" height="10" fill="#fff"/>
<text x="745.3" y="1515.65" font-size="12.5" text-anchor="middle">1</text>
<rect x="738.5" y="1583.15" width="24" height="10" fill="#fff"/>
<text x="750.5" y="1592.65" font-size="12.5" text-anchor="middle">0.5</text>
<path d="M587.7,1664.4 H888 M587.7,1664.4 V1364.1" stroke="#8c8c8c" stroke-width="1.3" fill="none"/>
<path d="M626.24,1664.4 v-3 M587.7,1625.86 h3 M664.78,1664.4 v-3 M587.7,1587.33 h3 M703.31,1664.4 v-3 M587.7,1548.79 h3 M741.85,1664.4 v-3 M587.7,1510.25 h3 M780.39,1664.4 v-3 M587.7,1471.71 h3 M818.93,1664.4 v-3 M587.7,1433.18 h3 M857.46,1664.4 v-3 M587.7,1394.64 h3" stroke="#8c8c8c" stroke-width="1" fill="none"/>
<path d="M587.7,1356.1 A308.3,308.3 0 0 1 896,1664.4" fill="none" stroke="#000" stroke-width="2"/>
<path d="M587.7,1356.1 L587.7,1363.6 M618.53,1357.65 L617.78,1365.11 M649.36,1362.33 L647.86,1369.68 M680.19,1370.3 L677.94,1377.46 M711.02,1381.84 L708.02,1388.71 M741.85,1397.4 L738.1,1403.9 M772.68,1417.76 L768.18,1423.76 M803.51,1444.23 L798.26,1449.59 M834.34,1479.42 L828.34,1483.92 M865.17,1530.02 L858.42,1533.28 M880.59,1568.13 L873.46,1570.48 M892.92,1620.91 L885.49,1621.97 M896,1664.4 L888.5,1664.4" stroke="#000" stroke-width="2" fill="none"/>
<path d="M603.12,1356.49 L602.89,1360.98 M633.95,1359.59 L633.27,1364.04 M664.78,1365.89 L663.65,1370.25 M695.61,1375.6 L694.03,1379.82 M726.44,1389.08 L724.41,1393.1 M757.27,1406.92 L754.79,1410.68 M788.1,1430.11 L785.17,1433.53 M818.93,1460.48 L815.55,1463.46 M849.76,1501.99 L845.93,1504.36 M868.25,1536.58 L864.16,1538.44 M871.34,1543.57 L867.2,1545.34 M874.42,1551.08 L870.23,1552.74 M877.5,1559.22 L873.27,1560.75 M883.67,1578.08 L879.35,1579.34 M886.75,1589.45 L882.39,1590.54 M889.83,1603.05 L885.42,1603.94" stroke="#000" stroke-width="1.5" fill="none"/>
<text transform="translate(587.7,1350.6) rotate(-90)" x="0" y="5.2" font-size="14.5">0.0</text>
<text transform="translate(619.08,1352.17) rotate(-84.26)" x="0" y="5.2" font-size="14.5">0.1</text>
<text transform="translate(650.46,1356.94) rotate(-78.46)" x="0" y="5.2" font-size="14.5">0.2</text>
<text transform="translate(681.84,1365.05) rotate(-72.54)" x="0" y="5.2" font-size="14.5">0.3</text>
<text transform="translate(713.22,1376.8) rotate(-66.42)" x="0" y="5.2" font-size="14.5">0.4</text>
<text transform="translate(744.6,1392.64) rotate(-60)" x="0" y="5.2" font-size="14.5">0.5</text>
<text transform="translate(775.98,1413.36) rotate(-53.13)" x="0" y="5.2" font-size="14.5">0.6</text>
<text transform="translate(807.36,1440.3) rotate(-45.57)" x="0" y="5.2" font-size="14.5">0.7</text>
<text transform="translate(838.74,1476.12) rotate(-36.87)" x="0" y="5.2" font-size="14.5">0.8</text>
<text transform="translate(870.12,1527.62) rotate(-25.84)" x="0" y="5.2" font-size="14.5">0.9</text>
<text transform="translate(885.81,1566.42) rotate(-18.19)" x="0" y="5.2" font-size="14.5">0.95</text>
<text transform="translate(898.36,1620.13) rotate(-8.11)" x="0" y="5.2" font-size="14.5">0.99</text>
<text transform="translate(901.5,1664.4) rotate(-0)" x="0" y="5.2" font-size="14.5">1</text>
<text x="581.7" y="1669.6" font-size="14.5" text-anchor="end">0.00</text>
<text x="587.7" y="1685.1" font-size="14.5" text-anchor="middle">0.00</text>
<text x="581.7" y="1631.06" font-size="14.5" text-anchor="end">0.25</text>
<text x="626.24" y="1685.1" font-size="14.5" text-anchor="middle">0.25</text>
<text x="581.7" y="1592.53" font-size="14.5" text-anchor="end">0.50</text>
<text x="664.78" y="1685.1" font-size="14.5" text-anchor="middle">0.50</text>
<text x="581.7" y="1553.99" font-size="14.5" text-anchor="end">0.75</text>
<text x="703.31" y="1685.1" font-size="14.5" text-anchor="middle">0.75</text>
<text x="581.7" y="1515.45" font-size="14.5" text-anchor="end">1.00</text>
<text x="741.85" y="1685.1" font-size="14.5" text-anchor="middle">1.00</text>
<text x="581.7" y="1476.91" font-size="14.5" text-anchor="end">1.25</text>
<text x="780.39" y="1685.1" font-size="14.5" text-anchor="middle">1.25</text>
<text x="581.7" y="1438.38" font-size="14.5" text-anchor="end">1.50</text>
<text x="818.93" y="1685.1" font-size="14.5" text-anchor="middle">1.50</text>
<text x="581.7" y="1399.84" font-size="14.5" text-anchor="end">1.75</text>
<text x="857.46" y="1685.1" font-size="14.5" text-anchor="middle">1.75</text>
<text transform="translate(833.59,1411.55) rotate(45)" y="5.3" font-size="15" text-anchor="middle">Correlation</text>
<text transform="translate(546.9,1509.9) rotate(-90)" font-size="15.7" text-anchor="middle">Standard deviation (normalized)</text>
<rect x="779.2" y="1301.4" width="100.5" height="67" fill="#fff" stroke="#777" stroke-width="1"/>
<circle cx="800" cy="1311.4" r="4.2" fill="#ff0000"/>
<text x="820.3" y="1315.8" font-size="12.5">HYCOM</text>
<circle cx="800" cy="1327.63" r="4.2" fill="#0000ff"/>
<text x="820.3" y="1332.03" font-size="12.5">MRI.COM</text>
<circle cx="800" cy="1343.86" r="4.2" fill="#d2691e"/>
<text x="820.3" y="1348.26" font-size="12.5">OFES</text>
<circle cx="800" cy="1360.09" r="4.2" fill="#00ff00"/>
<text x="820.3" y="1364.49" font-size="12.5">NEMO</text>
<rect x="879.5" y="1301" width="81.7" height="137.2" fill="#fff" stroke="#777" stroke-width="1"/>
<circle cx="900.5" cy="1311.4" r="4.2" fill="#000000"/>
<text x="921.8" y="1315.8" font-size="12.5">10 m</text>
<polygon points="900.5,1323.93 895.77,1332.33 905.23,1332.33" fill="#000000"/>
<text x="921.8" y="1332.53" font-size="12.5">30m</text>
<polygon points="900.5,1340.36 901.69,1343.67 905.21,1343.78 902.43,1345.94 903.41,1349.31 900.5,1347.34 897.59,1349.31 898.57,1345.94 895.79,1343.78 899.31,1343.67" fill="#000000"/>
<text x="921.8" y="1349.26" font-size="12.5">50 m</text>
<rect x="897.05" y="1358.14" width="6.9" height="6.9" fill="#000000"/>
<text x="921.8" y="1365.99" font-size="12.5">80 m</text>
<circle cx="900.5" cy="1378.32" r="3.6" fill="none" stroke="#000000" stroke-width="1.4"/>
<text x="921.8" y="1382.72" font-size="12.5">100 m</text>
<polygon points="900.5,1391.3 896.15,1398.8 904.85,1398.8" fill="none" stroke="#000000" stroke-width="1.4" stroke-linejoin="miter"/>
<text x="921.8" y="1399.45" font-size="12.5">150 m</text>
<polygon points="900.5,1407.73 901.65,1410.65 904.78,1410.84 902.35,1412.83 903.15,1415.87 900.5,1414.18 897.85,1415.87 898.65,1412.83 896.22,1410.84 899.35,1410.65" fill="none" stroke="#000000" stroke-width="1.3" stroke-linejoin="miter"/>
<text x="921.8" y="1416.18" font-size="12.5">200 m</text>
<rect x="897.35" y="1425.36" width="6.3" height="6.3" fill="none" stroke="#000000" stroke-width="1.3"/>
<text x="921.8" y="1432.91" font-size="12.5">250 m</text>
<circle cx="741.85" cy="1664.4" r="4.3" fill="#000"/>
<rect x="640.3" y="1476.3" width="8.4" height="8.4" fill="none" stroke="#00ff00" stroke-width="1.3"/>
<polygon points="650.1,1490.8 651.63,1494.7 655.81,1494.95 652.57,1497.6 653.63,1501.65 650.1,1499.4 646.57,1501.65 647.63,1497.6 644.39,1494.95 648.57,1494.7" fill="none" stroke="#00ff00" stroke-width="1.3" stroke-linejoin="miter"/>
<circle cx="694.1" cy="1488.7" r="4.8" fill="none" stroke="#0000ff" stroke-width="1.4"/>
<polygon points="733.3,1547.5 727.5,1557.5 739.1,1557.5" fill="none" stroke="#d2691e" stroke-width="1.4" stroke-linejoin="miter"/>
<circle cx="764.6" cy="1566.3" r="5.6" fill="#0000ff"/>
<polygon points="758.3,1572.6 752,1583.8 764.6,1583.8" fill="#0000ff"/>
<circle cx="697.4" cy="1606.6" r="5.6" fill="#00ff00"/>
<rect x="723.8" y="1605.7" width="9.2" height="9.2" fill="#d2691e"/>
<polygon points="765.7,1603.6 759.4,1614.8 772,1614.8" fill="#d2691e"/>
<circle cx="737" cy="1629.7" r="5.6" fill="#d2691e"/>
<polygon points="642.6,1538.7 636.8,1548.7 648.4,1548.7" fill="none" stroke="#00ff00" stroke-width="1.4" stroke-linejoin="miter"/>
<polygon points="665.7,1543.2 667.29,1547.62 671.98,1547.76 668.27,1550.63 669.58,1555.14 665.7,1552.5 661.82,1555.14 663.13,1550.63 659.42,1547.76 664.11,1547.62" fill="#ff0000"/>
<polygon points="676.9,1537.4 671.1,1547.4 682.7,1547.4" fill="none" stroke="#ff0000" stroke-width="1.4" stroke-linejoin="miter"/>
<rect x="679.6" y="1537.2" width="9.2" height="9.2" fill="#0000ff"/>
<polygon points="713.4,1528.7 714.99,1533.12 719.68,1533.26 715.97,1536.13 717.28,1540.64 713.4,1538 709.52,1540.64 710.83,1536.13 707.12,1533.26 711.81,1533.12" fill="#0000ff"/>
<polygon points="624.6,1550.7 626.19,1555.12 630.88,1555.26 627.17,1558.13 628.48,1562.64 624.6,1560 620.72,1562.64 622.03,1558.13 618.32,1555.26 623.01,1555.12" fill="#00ff00"/>
<polygon points="710.1,1550.7 711.69,1555.12 716.38,1555.26 712.67,1558.13 713.98,1562.64 710.1,1560 706.22,1562.64 707.53,1558.13 703.82,1555.26 708.51,1555.12" fill="#d2691e"/>
<polygon points="641.1,1558.6 634.8,1569.8 647.4,1569.8" fill="#ff0000"/>
<rect x="639.9" y="1560.2" width="9.2" height="9.2" fill="#ff0000"/>
<circle cx="643.5" cy="1571" r="5.6" fill="#ff0000"/>
<circle cx="660.1" cy="1576" r="4.8" fill="none" stroke="#ff0000" stroke-width="1.4"/>
<circle cx="699.8" cy="1579.7" r="4.8" fill="none" stroke="#d2691e" stroke-width="1.4"/>
<rect x="614.3" y="1577.6" width="9.2" height="9.2" fill="#00ff00"/>
<circle cx="627.1" cy="1588.4" r="4.8" fill="none" stroke="#00ff00" stroke-width="1.4"/>
<polygon points="642.3,1586.5 636,1597.7 648.6,1597.7" fill="#00ff00"/>
<clipPath id="clip8"><path d="M125.3,2073.9 L125.3,1765.6 A308.3,308.3 0 0 1 433.6,2073.9 Z"/></clipPath>
<path d="M125.3,1996.83 A77.08,77.08 0 0 1 202.38,2073.9" fill="none" stroke="#c8c8c8" stroke-width="1"/>
<path d="M125.3,1919.75 A154.15,154.15 0 0 1 279.45,2073.9" fill="none" stroke="#c8c8c8" stroke-width="1"/>
<path d="M125.3,1842.68 A231.23,231.23 0 0 1 356.53,2073.9" fill="none" stroke="#c8c8c8" stroke-width="1"/>
<g clip-path="url(#clip8)" fill="none" stroke="#e04848" stroke-width="1.2"><circle cx="279.45" cy="2073.9" r="77.08"/><circle cx="279.45" cy="2073.9" r="154.15"/><circle cx="279.45" cy="2073.9" r="231.23"/><circle cx="279.45" cy="2073.9" r="308.3"/></g>
<rect x="160.2" y="1783.45" width="13" height="10" fill="#fff"/>
<text x="166.7" y="1792.95" font-size="12.5" text-anchor="middle">2</text>
<rect x="221.6" y="1844.75" width="24" height="10" fill="#fff"/>
<text x="233.6" y="1854.25" font-size="12.5" text-anchor="middle">1.5</text>
<rect x="276.4" y="1915.65" width="13" height="10" fill="#fff"/>
<text x="282.9" y="1925.15" font-size="12.5" text-anchor="middle">1</text>
<rect x="276.1" y="1992.65" width="24" height="10" fill="#fff"/>
<text x="288.1" y="2002.15" font-size="12.5" text-anchor="middle">0.5</text>
<path d="M125.3,2073.9 H425.6 M125.3,2073.9 V1773.6" stroke="#8c8c8c" stroke-width="1.3" fill="none"/>
<path d="M163.84,2073.9 v-3 M125.3,2035.36 h3 M202.38,2073.9 v-3 M125.3,1996.83 h3 M240.91,2073.9 v-3 M125.3,1958.29 h3 M279.45,2073.9 v-3 M125.3,1919.75 h3 M317.99,2073.9 v-3 M125.3,1881.21 h3 M356.53,2073.9 v-3 M125.3,1842.68 h3 M395.06,2073.9 v-3 M125.3,1804.14 h3" stroke="#8c8c8c" stroke-width="1" fill="none"/>
<path d="M125.3,1765.6 A308.3,308.3 0 0 1 433.6,2073.9" fill="none" stroke="#000" stroke-width="2"/>
<path d="M125.3,1765.6 L125.3,1773.1 M156.13,1767.15 L155.38,1774.61 M186.96,1771.83 L185.46,1779.18 M217.79,1779.8 L215.54,1786.96 M248.62,1791.34 L245.62,1798.21 M279.45,1806.9 L275.7,1813.4 M310.28,1827.26 L305.78,1833.26 M341.11,1853.73 L335.86,1859.09 M371.94,1888.92 L365.94,1893.42 M402.77,1939.52 L396.02,1942.78 M418.19,1977.63 L411.06,1979.98 M430.52,2030.41 L423.09,2031.47 M433.6,2073.9 L426.1,2073.9" stroke="#000" stroke-width="2" fill="none"/>
<path d="M140.72,1765.99 L140.49,1770.48 M171.54,1769.09 L170.87,1773.54 M202.38,1775.39 L201.25,1779.75 M233.21,1785.1 L231.63,1789.32 M264.04,1798.58 L262.01,1802.6 M294.87,1816.42 L292.39,1820.18 M325.69,1839.61 L322.77,1843.03 M356.53,1869.98 L353.15,1872.96 M387.36,1911.49 L383.53,1913.86 M405.85,1946.08 L401.76,1947.94 M408.94,1953.07 L404.8,1954.84 M412.02,1960.58 L407.83,1962.24 M415.1,1968.72 L410.87,1970.25 M421.27,1987.58 L416.95,1988.84 M424.35,1998.95 L419.99,2000.04 M427.43,2012.55 L423.02,2013.44" stroke="#000" stroke-width="1.5" fill="none"/>
<text transform="translate(125.3,1760.1) rotate(-90)" x="0" y="5.2" font-size="14.5">0.0</text>
<text transform="translate(156.68,1761.67) rotate(-84.26)" x="0" y="5.2" font-size="14.5">0.1</text>
<text transform="translate(188.06,1766.44) rotate(-78.46)" x="0" y="5.2" font-size="14.5">0.2</text>
<text transform="translate(219.44,1774.55) rotate(-72.54)" x="0" y="5.2" font-size="14.5">0.3</text>
<text transform="translate(250.82,1786.3) rotate(-66.42)" x="0" y="5.2" font-size="14.5">0.4</text>
<text transform="translate(282.2,1802.14) rotate(-60)" x="0" y="5.2" font-size="14.5">0.5</text>
<text transform="translate(313.58,1822.86) rotate(-53.13)" x="0" y="5.2" font-size="14.5">0.6</text>
<text transform="translate(344.96,1849.8) rotate(-45.57)" x="0" y="5.2" font-size="14.5">0.7</text>
<text transform="translate(376.34,1885.62) rotate(-36.87)" x="0" y="5.2" font-size="14.5">0.8</text>
<text transform="translate(407.72,1937.12) rotate(-25.84)" x="0" y="5.2" font-size="14.5">0.9</text>
<text transform="translate(423.41,1975.92) rotate(-18.19)" x="0" y="5.2" font-size="14.5">0.95</text>
<text transform="translate(435.96,2029.63) rotate(-8.11)" x="0" y="5.2" font-size="14.5">0.99</text>
<text transform="translate(439.1,2073.9) rotate(-0)" x="0" y="5.2" font-size="14.5">1</text>
<text x="119.3" y="2079.1" font-size="14.5" text-anchor="end">0.00</text>
<text x="125.3" y="2094.6" font-size="14.5" text-anchor="middle">0.00</text>
<text x="119.3" y="2040.56" font-size="14.5" text-anchor="end">0.25</text>
<text x="163.84" y="2094.6" font-size="14.5" text-anchor="middle">0.25</text>
<text x="119.3" y="2002.03" font-size="14.5" text-anchor="end">0.50</text>
<text x="202.38" y="2094.6" font-size="14.5" text-anchor="middle">0.50</text>
<text x="119.3" y="1963.49" font-size="14.5" text-anchor="end">0.75</text>
<text x="240.91" y="2094.6" font-size="14.5" text-anchor="middle">0.75</text>
<text x="119.3" y="1924.95" font-size="14.5" text-anchor="end">1.00</text>
<text x="279.45" y="2094.6" font-size="14.5" text-anchor="middle">1.00</text>
<text x="119.3" y="1886.41" font-size="14.5" text-anchor="end">1.25</text>
<text x="317.99" y="2094.6" font-size="14.5" text-anchor="middle">1.25</text>
<text x="119.3" y="1847.88" font-size="14.5" text-anchor="end">1.50</text>
<text x="356.53" y="2094.6" font-size="14.5" text-anchor="middle">1.50</text>
<text x="119.3" y="1809.34" font-size="14.5" text-anchor="end">1.75</text>
<text x="395.06" y="2094.6" font-size="14.5" text-anchor="middle">1.75</text>
<text transform="translate(371.19,1821.05) rotate(45)" y="5.3" font-size="15" text-anchor="middle">Correlation</text>
<text transform="translate(84.5,1919.4) rotate(-90)" font-size="15.7" text-anchor="middle">Standard deviation (normalized)</text>
<text transform="translate(23.6,1922.3) rotate(-90)" font-size="30" font-weight="bold" text-anchor="middle">Ulleung Basin (K1)</text>
<rect x="316" y="1706.8" width="100.5" height="67" fill="#fff" stroke="#777" stroke-width="1"/>
<circle cx="336.8" cy="1716.8" r="4.2" fill="#ff0000"/>
<text x="357.1" y="1721.2" font-size="12.5">HYCOM</text>
<circle cx="336.8" cy="1733.03" r="4.2" fill="#0000ff"/>
<text x="357.1" y="1737.43" font-size="12.5">MRI.COM</text>
<circle cx="336.8" cy="1749.26" r="4.2" fill="#d2691e"/>
<text x="357.1" y="1753.66" font-size="12.5">OFES</text>
<circle cx="336.8" cy="1765.49" r="4.2" fill="#00ff00"/>
<text x="357.1" y="1769.89" font-size="12.5">NEMO</text>
<rect x="416.7" y="1706.8" width="81.7" height="137.2" fill="#fff" stroke="#777" stroke-width="1"/>
<circle cx="437.7" cy="1717.2" r="4.2" fill="#000000"/>
<text x="459" y="1721.6" font-size="12.5">10 m</text>
<polygon points="437.7,1729.73 432.97,1738.13 442.43,1738.13" fill="#000000"/>
<text x="459" y="1738.33" font-size="12.5">30m</text>
<polygon points="437.7,1746.16 438.89,1749.47 442.41,1749.58 439.63,1751.74 440.61,1755.11 437.7,1753.14 434.79,1755.11 435.77,1751.74 432.99,1749.58 436.51,1749.47" fill="#000000"/>
<text x="459" y="1755.06" font-size="12.5">50 m</text>
<rect x="434.25" y="1763.94" width="6.9" height="6.9" fill="#000000"/>
<text x="459" y="1771.79" font-size="12.5">80 m</text>
<circle cx="437.7" cy="1784.12" r="3.6" fill="none" stroke="#000000" stroke-width="1.4"/>
<text x="459" y="1788.52" font-size="12.5">100 m</text>
<polygon points="437.7,1797.1 433.35,1804.6 442.05,1804.6" fill="none" stroke="#000000" stroke-width="1.4" stroke-linejoin="miter"/>
<text x="459" y="1805.25" font-size="12.5">150 m</text>
<polygon points="437.7,1813.53 438.85,1816.45 441.98,1816.64 439.55,1818.63 440.35,1821.67 437.7,1819.98 435.05,1821.67 435.85,1818.63 433.42,1816.64 436.55,1816.45" fill="none" stroke="#000000" stroke-width="1.3" stroke-linejoin="miter"/>
<text x="459" y="1821.98" font-size="12.5">200 m</text>
<rect x="434.55" y="1831.16" width="6.3" height="6.3" fill="none" stroke="#000000" stroke-width="1.3"/>
<text x="459" y="1838.71" font-size="12.5">250 m</text>
<circle cx="279.45" cy="2073.9" r="4.3" fill="#000"/>
<polygon points="217.4,1901.2 211.6,1911.2 223.2,1911.2" fill="none" stroke="#0000ff" stroke-width="1.4" stroke-linejoin="miter"/>
<rect x="207.2" y="1910.9" width="9.2" height="9.2" fill="#ff0000"/>
<circle cx="235.4" cy="1914.9" r="4.8" fill="none" stroke="#0000ff" stroke-width="1.4"/>
<circle cx="204.9" cy="1928" r="4.8" fill="none" stroke="#ff0000" stroke-width="1.4"/>
<circle cx="199.7" cy="1932.9" r="4.8" fill="none" stroke="#00ff00" stroke-width="1.4"/>
<polygon points="212.1,1930 213.69,1934.42 218.38,1934.56 214.67,1937.43 215.98,1941.94 212.1,1939.3 208.22,1941.94 209.53,1937.43 205.82,1934.56 210.51,1934.42" fill="#ff0000"/>
<polygon points="213.4,1939.8 207.1,1951 219.7,1951" fill="#ff0000"/>
<circle cx="227.3" cy="1941" r="5.6" fill="#ff0000"/>
<rect x="261.9" y="1936.4" width="9.2" height="9.2" fill="#0000ff"/>
<rect x="233.9" y="1948.6" width="9.2" height="9.2" fill="#00ff00"/>
<circle cx="267.1" cy="1962.4" r="4.8" fill="none" stroke="#d2691e" stroke-width="1.4"/>
<rect x="283" y="1954.8" width="9.2" height="9.2" fill="#d2691e"/>
<polygon points="288.9,1973.3 290.49,1977.72 295.18,1977.86 291.47,1980.73 292.78,1985.24 288.9,1982.6 285.02,1985.24 286.33,1980.73 282.62,1977.86 287.31,1977.72" fill="#d2691e"/>
<polygon points="252.2,1982.6 246.4,1992.6 258,1992.6" fill="none" stroke="#d2691e" stroke-width="1.4" stroke-linejoin="miter"/>
<polygon points="272.1,1979.2 273.69,1983.62 278.38,1983.76 274.67,1986.63 275.98,1991.14 272.1,1988.5 268.22,1991.14 269.53,1986.63 265.82,1983.76 270.51,1983.62" fill="#0000ff"/>
<polygon points="267.7,1980.4 269.29,1984.82 273.98,1984.96 270.27,1987.83 271.58,1992.34 267.7,1989.7 263.82,1992.34 265.13,1987.83 261.42,1984.96 266.11,1984.82" fill="#00ff00"/>
<polygon points="254.5,1997.4 256.03,2001.3 260.21,2001.55 256.97,2004.2 258.03,2008.25 254.5,2006 250.97,2008.25 252.03,2004.2 248.79,2001.55 252.97,2001.3" fill="none" stroke="#d2691e" stroke-width="1.3" stroke-linejoin="miter"/>
<polygon points="283.3,1994.7 277,2005.9 289.6,2005.9" fill="#d2691e"/>
<polygon points="276.3,2008 270,2019.2 282.6,2019.2" fill="#0000ff"/>
<circle cx="285.5" cy="2019" r="5.6" fill="#d2691e"/>
<polygon points="285,2013.8 278.7,2025 291.3,2025" fill="#00ff00"/>
<circle cx="298.1" cy="2029.4" r="5.6" fill="#0000ff"/>
<circle cx="298.1" cy="2035.6" r="5.6" fill="#00ff00"/>
<polygon points="161.7,1953.8 155.9,1963.8 167.5,1963.8" fill="none" stroke="#00ff00" stroke-width="1.4" stroke-linejoin="miter"/>
<polygon points="179.6,1975 173.8,1985 185.4,1985" fill="none" stroke="#ff0000" stroke-width="1.4" stroke-linejoin="miter"/>
<polygon points="151.6,1978.4 153.13,1982.3 157.31,1982.55 154.07,1985.2 155.13,1989.25 151.6,1987 148.07,1989.25 149.13,1985.2 145.89,1982.55 150.07,1982.3" fill="none" stroke="#00ff00" stroke-width="1.3" stroke-linejoin="miter"/>
<polygon points="165.4,1979.1 166.93,1983 171.11,1983.25 167.87,1985.9 168.93,1989.95 165.4,1987.7 161.87,1989.95 162.93,1985.9 159.69,1983.25 163.87,1983" fill="none" stroke="#0000ff" stroke-width="1.3" stroke-linejoin="miter"/>
<rect x="159.7" y="1989.6" width="8.4" height="8.4" fill="none" stroke="#ff0000" stroke-width="1.3"/>
<polygon points="161.7,1996.3 163.23,2000.2 167.41,2000.45 164.17,2003.1 165.23,2007.15 161.7,2004.9 158.17,2007.15 159.23,2003.1 155.99,2000.45 160.17,2000.2" fill="none" stroke="#ff0000" stroke-width="1.3" stroke-linejoin="miter"/>
<rect x="237.7" y="2019.8" width="8.4" height="8.4" fill="none" stroke="#d2691e" stroke-width="1.3"/>
<rect x="143.7" y="2028" width="8.4" height="8.4" fill="none" stroke="#00ff00" stroke-width="1.3"/>
<rect x="143.7" y="2032.5" width="8.4" height="8.4" fill="none" stroke="#0000ff" stroke-width="1.3"/>
<clipPath id="clip9"><path d="M589.1,2071.4 L589.1,1763.1 A308.3,308.3 0 0 1 897.4,2071.4 Z"/></clipPath>
<path d="M589.1,1994.33 A77.08,77.08 0 0 1 666.18,2071.4" fill="none" stroke="#c8c8c8" stroke-width="1"/>
<path d="M589.1,1917.25 A154.15,154.15 0 0 1 743.25,2071.4" fill="none" stroke="#c8c8c8" stroke-width="1"/>
<path d="M589.1,1840.18 A231.23,231.23 0 0 1 820.33,2071.4" fill="none" stroke="#c8c8c8" stroke-width="1"/>
<g clip-path="url(#clip9)" fill="none" stroke="#e04848" stroke-width="1.2"><circle cx="743.25" cy="2071.4" r="77.08"/><circle cx="743.25" cy="2071.4" r="154.15"/><circle cx="743.25" cy="2071.4" r="231.23"/><circle cx="743.25" cy="2071.4" r="308.3"/></g>
<rect x="624" y="1780.95" width="13" height="10" fill="#fff"/>
<text x="630.5" y="1790.45" font-size="12.5" text-anchor="middle">2</text>
<rect x="685.4" y="1842.25" width="24" height="10" fill="#fff"/>
<text x="697.4" y="1851.75" font-size="12.5" text-anchor="middle">1.5</text>
<rect x="740.2" y="1913.15" width="13" height="10" fill="#fff"/>
<text x="746.7" y="1922.65" font-size="12.5" text-anchor="middle">1</text>
<rect x="739.9" y="1990.15" width="24" height="10" fill="#fff"/>
<text x="751.9" y="1999.65" font-size="12.5" text-anchor="middle">0.5</text>
<path d="M589.1,2071.4 H889.4 M589.1,2071.4 V1771.1" stroke="#8c8c8c" stroke-width="1.3" fill="none"/>
<path d="M627.64,2071.4 v-3 M589.1,2032.86 h3 M666.18,2071.4 v-3 M589.1,1994.33 h3 M704.71,2071.4 v-3 M589.1,1955.79 h3 M743.25,2071.4 v-3 M589.1,1917.25 h3 M781.79,2071.4 v-3 M589.1,1878.71 h3 M820.33,2071.4 v-3 M589.1,1840.18 h3 M858.86,2071.4 v-3 M589.1,1801.64 h3" stroke="#8c8c8c" stroke-width="1" fill="none"/>
<path d="M589.1,1763.1 A308.3,308.3 0 0 1 897.4,2071.4" fill="none" stroke="#000" stroke-width="2"/>
<path d="M589.1,1763.1 L589.1,1770.6 M619.93,1764.65 L619.18,1772.11 M650.76,1769.33 L649.26,1776.68 M681.59,1777.3 L679.34,1784.46 M712.42,1788.84 L709.42,1795.71 M743.25,1804.4 L739.5,1810.9 M774.08,1824.76 L769.58,1830.76 M804.91,1851.23 L799.66,1856.59 M835.74,1886.42 L829.74,1890.92 M866.57,1937.02 L859.82,1940.28 M881.99,1975.13 L874.86,1977.48 M894.32,2027.91 L886.89,2028.97 M897.4,2071.4 L889.9,2071.4" stroke="#000" stroke-width="2" fill="none"/>
<path d="M604.52,1763.49 L604.29,1767.98 M635.35,1766.59 L634.67,1771.04 M666.18,1772.89 L665.05,1777.25 M697,1782.6 L695.43,1786.82 M727.84,1796.08 L725.81,1800.1 M758.67,1813.92 L756.19,1817.68 M789.5,1837.11 L786.57,1840.53 M820.33,1867.48 L816.95,1870.46 M851.15,1908.99 L847.33,1911.36 M869.65,1943.58 L865.56,1945.44 M872.74,1950.57 L868.6,1952.34 M875.82,1958.08 L871.63,1959.74 M878.9,1966.22 L874.67,1967.75 M885.07,1985.08 L880.75,1986.34 M888.15,1996.45 L883.79,1997.54 M891.23,2010.05 L886.82,2010.94" stroke="#000" stroke-width="1.5" fill="none"/>
<text transform="translate(589.1,1757.6) rotate(-90)" x="0" y="5.2" font-size="14.5">0.0</text>
<text transform="translate(620.48,1759.17) rotate(-84.26)" x="0" y="5.2" font-size="14.5">0.1</text>
<text transform="translate(651.86,1763.94) rotate(-78.46)" x="0" y="5.2" font-size="14.5">0.2</text>
<text transform="translate(683.24,1772.05) rotate(-72.54)" x="0" y="5.2" font-size="14.5">0.3</text>
<text transform="translate(714.62,1783.8) rotate(-66.42)" x="0" y="5.2" font-size="14.5">0.4</text>
<text transform="translate(746,1799.64) rotate(-60)" x="0" y="5.2" font-size="14.5">0.5</text>
<text transform="translate(777.38,1820.36) rotate(-53.13)" x="0" y="5.2" font-size="14.5">0.6</text>
<text transform="translate(808.76,1847.3) rotate(-45.57)" x="0" y="5.2" font-size="14.5">0.7</text>
<text transform="translate(840.14,1883.12) rotate(-36.87)" x="0" y="5.2" font-size="14.5">0.8</text>
<text transform="translate(871.52,1934.62) rotate(-25.84)" x="0" y="5.2" font-size="14.5">0.9</text>
<text transform="translate(887.21,1973.42) rotate(-18.19)" x="0" y="5.2" font-size="14.5">0.95</text>
<text transform="translate(899.76,2027.13) rotate(-8.11)" x="0" y="5.2" font-size="14.5">0.99</text>
<text transform="translate(902.9,2071.4) rotate(-0)" x="0" y="5.2" font-size="14.5">1</text>
<text x="583.1" y="2076.6" font-size="14.5" text-anchor="end">0.00</text>
<text x="589.1" y="2092.1" font-size="14.5" text-anchor="middle">0.00</text>
<text x="583.1" y="2038.06" font-size="14.5" text-anchor="end">0.25</text>
<text x="627.64" y="2092.1" font-size="14.5" text-anchor="middle">0.25</text>
<text x="583.1" y="1999.53" font-size="14.5" text-anchor="end">0.50</text>
<text x="666.18" y="2092.1" font-size="14.5" text-anchor="middle">0.50</text>
<text x="583.1" y="1960.99" font-size="14.5" text-anchor="end">0.75</text>
<text x="704.71" y="2092.1" font-size="14.5" text-anchor="middle">0.75</text>
<text x="583.1" y="1922.45" font-size="14.5" text-anchor="end">1.00</text>
<text x="743.25" y="2092.1" font-size="14.5" text-anchor="middle">1.00</text>
<text x="583.1" y="1883.91" font-size="14.5" text-anchor="end">1.25</text>
<text x="781.79" y="2092.1" font-size="14.5" text-anchor="middle">1.25</text>
<text x="583.1" y="1845.38" font-size="14.5" text-anchor="end">1.50</text>
<text x="820.33" y="2092.1" font-size="14.5" text-anchor="middle">1.50</text>
<text x="583.1" y="1806.84" font-size="14.5" text-anchor="end">1.75</text>
<text x="858.86" y="2092.1" font-size="14.5" text-anchor="middle">1.75</text>
<text transform="translate(834.99,1818.55) rotate(45)" y="5.3" font-size="15" text-anchor="middle">Correlation</text>
<text transform="translate(548.3,1916.9) rotate(-90)" font-size="15.7" text-anchor="middle">Standard deviation (normalized)</text>
<rect x="778.7" y="1706.8" width="100.5" height="67" fill="#fff" stroke="#777" stroke-width="1"/>
<circle cx="799.5" cy="1716.8" r="4.2" fill="#ff0000"/>
<text x="819.8" y="1721.2" font-size="12.5">HYCOM</text>
<circle cx="799.5" cy="1733.03" r="4.2" fill="#0000ff"/>
<text x="819.8" y="1737.43" font-size="12.5">MRI.COM</text>
<circle cx="799.5" cy="1749.26" r="4.2" fill="#d2691e"/>
<text x="819.8" y="1753.66" font-size="12.5">OFES</text>
<circle cx="799.5" cy="1765.49" r="4.2" fill="#00ff00"/>
<text x="819.8" y="1769.89" font-size="12.5">NEMO</text>
<rect x="878.8" y="1706.8" width="81.7" height="137.2" fill="#fff" stroke="#777" stroke-width="1"/>
<circle cx="899.8" cy="1717.2" r="4.2" fill="#000000"/>
<text x="921.1" y="1721.6" font-size="12.5">10 m</text>
<polygon points="899.8,1729.73 895.07,1738.13 904.52,1738.13" fill="#000000"/>
<text x="921.1" y="1738.33" font-size="12.5">30m</text>
<polygon points="899.8,1746.16 900.99,1749.47 904.51,1749.58 901.73,1751.74 902.71,1755.11 899.8,1753.14 896.89,1755.11 897.87,1751.74 895.09,1749.58 898.61,1749.47" fill="#000000"/>
<text x="921.1" y="1755.06" font-size="12.5">50 m</text>
<rect x="896.35" y="1763.94" width="6.9" height="6.9" fill="#000000"/>
<text x="921.1" y="1771.79" font-size="12.5">80 m</text>
<circle cx="899.8" cy="1784.12" r="3.6" fill="none" stroke="#000000" stroke-width="1.4"/>
<text x="921.1" y="1788.52" font-size="12.5">100 m</text>
<polygon points="899.8,1797.1 895.45,1804.6 904.15,1804.6" fill="none" stroke="#000000" stroke-width="1.4" stroke-linejoin="miter"/>
<text x="921.1" y="1805.25" font-size="12.5">150 m</text>
<polygon points="899.8,1813.53 900.95,1816.45 904.08,1816.64 901.65,1818.63 902.45,1821.67 899.8,1819.98 897.15,1821.67 897.95,1818.63 895.52,1816.64 898.65,1816.45" fill="none" stroke="#000000" stroke-width="1.3" stroke-linejoin="miter"/>
<text x="921.1" y="1821.98" font-size="12.5">200 m</text>
<rect x="896.65" y="1831.16" width="6.3" height="6.3" fill="none" stroke="#000000" stroke-width="1.3"/>
<text x="921.1" y="1838.71" font-size="12.5">250 m</text>
<circle cx="743.25" cy="2071.4" r="4.3" fill="#000"/>
<polygon points="676.1,1880.6 670.3,1890.6 681.9,1890.6" fill="none" stroke="#0000ff" stroke-width="1.4" stroke-linejoin="miter"/>
<circle cx="659.7" cy="1896.1" r="4.8" fill="none" stroke="#0000ff" stroke-width="1.4"/>
<rect x="677.1" y="1915.7" width="9.2" height="9.2" fill="#0000ff"/>
<circle cx="687.6" cy="1930.4" r="4.8" fill="none" stroke="#00ff00" stroke-width="1.4"/>
<polygon points="634,1944.2 628.2,1954.2 639.8,1954.2" fill="none" stroke="#00ff00" stroke-width="1.4" stroke-linejoin="miter"/>
<rect x="675.1" y="1966.7" width="8.4" height="8.4" fill="none" stroke="#d2691e" stroke-width="1.3"/>
<rect x="622.5" y="1969.1" width="8.4" height="8.4" fill="none" stroke="#00ff00" stroke-width="1.3"/>
<polygon points="626.7,1967.9 628.23,1971.8 632.41,1972.05 629.17,1974.7 630.23,1978.75 626.7,1976.5 623.17,1978.75 624.23,1974.7 620.99,1972.05 625.17,1971.8" fill="none" stroke="#00ff00" stroke-width="1.3" stroke-linejoin="miter"/>
<polygon points="638.3,1969.1 639.89,1973.52 644.58,1973.66 640.87,1976.53 642.18,1981.04 638.3,1978.4 634.42,1981.04 635.73,1976.53 632.02,1973.66 636.71,1973.52" fill="#0000ff"/>
<polygon points="678.8,1977.2 672.5,1988.4 685.1,1988.4" fill="#0000ff"/>
<polygon points="618.1,1997.1 619.63,2001 623.81,2001.25 620.57,2003.9 621.63,2007.95 618.1,2005.7 614.57,2007.95 615.63,2003.9 612.39,2001.25 616.57,2001" fill="none" stroke="#0000ff" stroke-width="1.3" stroke-linejoin="miter"/>
<rect x="601" y="2026.2" width="8.4" height="8.4" fill="none" stroke="#0000ff" stroke-width="1.3"/>
<polygon points="697,2028.7 691.2,2038.7 702.8,2038.7" fill="none" stroke="#ff0000" stroke-width="1.4" stroke-linejoin="miter"/>
<rect x="721.9" y="1940.6" width="9.2" height="9.2" fill="#00ff00"/>
<circle cx="711.8" cy="1951.5" r="4.8" fill="none" stroke="#d2691e" stroke-width="1.4"/>
<polygon points="710.8,1951.1 704.5,1962.3 717.1,1962.3" fill="#ff0000"/>
<rect x="748.9" y="1955.6" width="8.4" height="8.4" fill="none" stroke="#ff0000" stroke-width="1.3"/>
<circle cx="737.3" cy="1963.8" r="5.6" fill="#ff0000"/>
<rect x="740.2" y="1963.3" width="9.2" height="9.2" fill="#d2691e"/>
<polygon points="711.8,1978.5 706,1988.5 717.6,1988.5" fill="none" stroke="#d2691e" stroke-width="1.4" stroke-linejoin="miter"/>
<polygon points="715.5,1979.7 717.09,1984.12 721.78,1984.26 718.07,1987.13 719.38,1991.64 715.5,1989 711.62,1991.64 712.93,1987.13 709.22,1984.26 713.91,1984.12" fill="#00ff00"/>
<polygon points="747.3,1979.1 741,1990.3 753.6,1990.3" fill="#00ff00"/>
<polygon points="772.7,1982.2 766.4,1993.4 779,1993.4" fill="#d2691e"/>
<circle cx="793" cy="1983.7" r="5.6" fill="#00ff00"/>
<polygon points="706.2,1993.6 707.73,1997.5 711.91,1997.75 708.67,2000.4 709.73,2004.45 706.2,2002.2 702.67,2004.45 703.73,2000.4 700.49,1997.75 704.67,1997.5" fill="none" stroke="#d2691e" stroke-width="1.3" stroke-linejoin="miter"/>
<circle cx="738.2" cy="2001.7" r="4.8" fill="none" stroke="#ff0000" stroke-width="1.4"/>
<polygon points="704.7,2011.7 706.29,2016.12 710.98,2016.26 707.27,2019.13 708.58,2023.64 704.7,2021 700.82,2023.64 702.13,2019.13 698.42,2016.26 703.11,2016.12" fill="#ff0000"/>
<circle cx="769.9" cy="2015.2" r="5.6" fill="#d2691e"/>
<polygon points="749.1,2019.7 750.69,2024.12 755.38,2024.26 751.67,2027.13 752.98,2031.64 749.1,2029 745.22,2031.64 746.53,2027.13 742.82,2024.26 747.51,2024.12" fill="#d2691e"/>
<circle cx="730.5" cy="2032.6" r="5.6" fill="#0000ff"/>
<rect x="774.4" y="2028.6" width="9.2" height="9.2" fill="#ff0000"/>
<clipPath id="clip10"><path d="M127.4,2479.1 L127.4,2170.8 A308.3,308.3 0 0 1 435.7,2479.1 Z"/></clipPath>
<path d="M127.4,2402.03 A77.08,77.08 0 0 1 204.48,2479.1" fill="none" stroke="#c8c8c8" stroke-width="1"/>
<path d="M127.4,2324.95 A154.15,154.15 0 0 1 281.55,2479.1" fill="none" stroke="#c8c8c8" stroke-width="1"/>
<path d="M127.4,2247.88 A231.23,231.23 0 0 1 358.62,2479.1" fill="none" stroke="#c8c8c8" stroke-width="1"/>
<g clip-path="url(#clip10)" fill="none" stroke="#e04848" stroke-width="1.2"><circle cx="281.55" cy="2479.1" r="77.08"/><circle cx="281.55" cy="2479.1" r="154.15"/><circle cx="281.55" cy="2479.1" r="231.23"/><circle cx="281.55" cy="2479.1" r="308.3"/></g>
<rect x="162.3" y="2188.65" width="13" height="10" fill="#fff"/>
<text x="168.8" y="2198.15" font-size="12.5" text-anchor="middle">2</text>
<rect x="223.7" y="2249.95" width="24" height="10" fill="#fff"/>
<text x="235.7" y="2259.45" font-size="12.5" text-anchor="middle">1.5</text>
<rect x="278.5" y="2320.85" width="13" height="10" fill="#fff"/>
<text x="285" y="2330.35" font-size="12.5" text-anchor="middle">1</text>
<rect x="278.2" y="2397.85" width="24" height="10" fill="#fff"/>
<text x="290.2" y="2407.35" font-size="12.5" text-anchor="middle">0.5</text>
<path d="M127.4,2479.1 H427.7 M127.4,2479.1 V2178.8" stroke="#8c8c8c" stroke-width="1.3" fill="none"/>
<path d="M165.94,2479.1 v-3 M127.4,2440.56 h3 M204.48,2479.1 v-3 M127.4,2402.03 h3 M243.01,2479.1 v-3 M127.4,2363.49 h3 M281.55,2479.1 v-3 M127.4,2324.95 h3 M320.09,2479.1 v-3 M127.4,2286.41 h3 M358.62,2479.1 v-3 M127.4,2247.88 h3 M397.16,2479.1 v-3 M127.4,2209.34 h3" stroke="#8c8c8c" stroke-width="1" fill="none"/>
<path d="M127.4,2170.8 A308.3,308.3 0 0 1 435.7,2479.1" fill="none" stroke="#000" stroke-width="2"/>
<path d="M127.4,2170.8 L127.4,2178.3 M158.23,2172.35 L157.48,2179.81 M189.06,2177.03 L187.56,2184.38 M219.89,2185 L217.64,2192.16 M250.72,2196.54 L247.72,2203.41 M281.55,2212.1 L277.8,2218.6 M312.38,2232.46 L307.88,2238.46 M343.21,2258.93 L337.96,2264.29 M374.04,2294.12 L368.04,2298.62 M404.87,2344.72 L398.12,2347.98 M420.28,2382.83 L413.16,2385.18 M432.62,2435.61 L425.19,2436.67 M435.7,2479.1 L428.2,2479.1" stroke="#000" stroke-width="2" fill="none"/>
<path d="M142.82,2171.19 L142.59,2175.68 M173.64,2174.29 L172.97,2178.74 M204.48,2180.59 L203.35,2184.95 M235.31,2190.3 L233.73,2194.52 M266.13,2203.78 L264.11,2207.8 M296.97,2221.62 L294.49,2225.38 M327.8,2244.81 L324.87,2248.23 M358.62,2275.18 L355.25,2278.16 M389.46,2316.69 L385.63,2319.06 M407.95,2351.28 L403.86,2353.14 M411.04,2358.27 L406.9,2360.04 M414.12,2365.78 L409.93,2367.44 M417.2,2373.92 L412.97,2375.45 M423.37,2392.78 L419.05,2394.04 M426.45,2404.15 L422.09,2405.24 M429.53,2417.75 L425.12,2418.64" stroke="#000" stroke-width="1.5" fill="none"/>
<text transform="translate(127.4,2165.3) rotate(-90)" x="0" y="5.2" font-size="14.5">0.0</text>
<text transform="translate(158.78,2166.87) rotate(-84.26)" x="0" y="5.2" font-size="14.5">0.1</text>
<text transform="translate(190.16,2171.64) rotate(-78.46)" x="0" y="5.2" font-size="14.5">0.2</text>
<text transform="translate(221.54,2179.75) rotate(-72.54)" x="0" y="5.2" font-size="14.5">0.3</text>
<text transform="translate(252.92,2191.5) rotate(-66.42)" x="0" y="5.2" font-size="14.5">0.4</text>
<text transform="translate(284.3,2207.34) rotate(-60)" x="0" y="5.2" font-size="14.5">0.5</text>
<text transform="translate(315.68,2228.06) rotate(-53.13)" x="0" y="5.2" font-size="14.5">0.6</text>
<text transform="translate(347.06,2255) rotate(-45.57)" x="0" y="5.2" font-size="14.5">0.7</text>
<text transform="translate(378.44,2290.82) rotate(-36.87)" x="0" y="5.2" font-size="14.5">0.8</text>
<text transform="translate(409.82,2342.32) rotate(-25.84)" x="0" y="5.2" font-size="14.5">0.9</text>
<text transform="translate(425.51,2381.12) rotate(-18.19)" x="0" y="5.2" font-size="14.5">0.95</text>
<text transform="translate(438.06,2434.83) rotate(-8.11)" x="0" y="5.2" font-size="14.5">0.99</text>
<text transform="translate(441.2,2479.1) rotate(-0)" x="0" y="5.2" font-size="14.5">1</text>
<text x="121.4" y="2484.3" font-size="14.5" text-anchor="end">0.00</text>
<text x="127.4" y="2499.8" font-size="14.5" text-anchor="middle">0.00</text>
<text x="121.4" y="2445.76" font-size="14.5" text-anchor="end">0.25</text>
<text x="165.94" y="2499.8" font-size="14.5" text-anchor="middle">0.25</text>
<text x="121.4" y="2407.22" font-size="14.5" text-anchor="end">0.50</text>
<text x="204.48" y="2499.8" font-size="14.5" text-anchor="middle">0.50</text>
<text x="121.4" y="2368.69" font-size="14.5" text-anchor="end">0.75</text>
<text x="243.01" y="2499.8" font-size="14.5" text-anchor="middle">0.75</text>
<text x="121.4" y="2330.15" font-size="14.5" text-anchor="end">1.00</text>
<text x="281.55" y="2499.8" font-size="14.5" text-anchor="middle">1.00</text>
<text x="121.4" y="2291.61" font-size="14.5" text-anchor="end">1.25</text>
<text x="320.09" y="2499.8" font-size="14.5" text-anchor="middle">1.25</text>
<text x="121.4" y="2253.07" font-size="14.5" text-anchor="end">1.50</text>
<text x="358.62" y="2499.8" font-size="14.5" text-anchor="middle">1.50</text>
<text x="121.4" y="2214.54" font-size="14.5" text-anchor="end">1.75</text>
<text x="397.16" y="2499.8" font-size="14.5" text-anchor="middle">1.75</text>
<text transform="translate(373.29,2226.25) rotate(45)" y="5.3" font-size="15" text-anchor="middle">Correlation</text>
<text transform="translate(86.6,2324.6) rotate(-90)" font-size="15.7" text-anchor="middle">Standard deviation (normalized)</text>
<text transform="translate(23.6,2325.2) rotate(-90)" font-size="30" font-weight="bold" text-anchor="middle">Ulleung Basin (K2)</text>
<rect x="316" y="2111" width="100.5" height="67" fill="#fff" stroke="#777" stroke-width="1"/>
<circle cx="336.8" cy="2121" r="4.2" fill="#ff0000"/>
<text x="357.1" y="2125.4" font-size="12.5">HYCOM</text>
<circle cx="336.8" cy="2137.23" r="4.2" fill="#0000ff"/>
<text x="357.1" y="2141.63" font-size="12.5">MRI.COM</text>
<circle cx="336.8" cy="2153.46" r="4.2" fill="#d2691e"/>
<text x="357.1" y="2157.86" font-size="12.5">OFES</text>
<circle cx="336.8" cy="2169.69" r="4.2" fill="#00ff00"/>
<text x="357.1" y="2174.09" font-size="12.5">NEMO</text>
<rect x="416.7" y="2110.7" width="81.7" height="137.2" fill="#fff" stroke="#777" stroke-width="1"/>
<circle cx="437.7" cy="2121.1" r="4.2" fill="#000000"/>
<text x="459" y="2125.5" font-size="12.5">10 m</text>
<polygon points="437.7,2133.63 432.97,2142.03 442.43,2142.03" fill="#000000"/>
<text x="459" y="2142.23" font-size="12.5">30m</text>
<polygon points="437.7,2150.06 438.89,2153.37 442.41,2153.48 439.63,2155.64 440.61,2159.01 437.7,2157.03 434.79,2159.01 435.77,2155.64 432.99,2153.48 436.51,2153.37" fill="#000000"/>
<text x="459" y="2158.96" font-size="12.5">50 m</text>
<rect x="434.25" y="2167.84" width="6.9" height="6.9" fill="#000000"/>
<text x="459" y="2175.69" font-size="12.5">80 m</text>
<circle cx="437.7" cy="2188.02" r="3.6" fill="none" stroke="#000000" stroke-width="1.4"/>
<text x="459" y="2192.42" font-size="12.5">100 m</text>
<polygon points="437.7,2201 433.35,2208.5 442.05,2208.5" fill="none" stroke="#000000" stroke-width="1.4" stroke-linejoin="miter"/>
<text x="459" y="2209.15" font-size="12.5">150 m</text>
<polygon points="437.7,2217.43 438.85,2220.35 441.98,2220.54 439.55,2222.53 440.35,2225.57 437.7,2223.88 435.05,2225.57 435.85,2222.53 433.42,2220.54 436.55,2220.35" fill="none" stroke="#000000" stroke-width="1.3" stroke-linejoin="miter"/>
<text x="459" y="2225.88" font-size="12.5">200 m</text>
<rect x="434.55" y="2235.06" width="6.3" height="6.3" fill="none" stroke="#000000" stroke-width="1.3"/>
<text x="459" y="2242.61" font-size="12.5">250 m</text>
<circle cx="281.55" cy="2479.1" r="4.3" fill="#000"/>
<polygon points="193.7,2300.5 187.9,2310.5 199.5,2310.5" fill="none" stroke="#0000ff" stroke-width="1.4" stroke-linejoin="miter"/>
<circle cx="198.9" cy="2305.3" r="4.8" fill="none" stroke="#0000ff" stroke-width="1.4"/>
<rect x="209" y="2316.5" width="9.2" height="9.2" fill="#0000ff"/>
<circle cx="222.5" cy="2335.8" r="5.6" fill="#ff0000"/>
<polygon points="242.6,2330.4 244.19,2334.82 248.88,2334.96 245.17,2337.83 246.48,2342.34 242.6,2339.7 238.72,2342.34 240.03,2337.83 236.32,2334.96 241.01,2334.82" fill="#0000ff"/>
<circle cx="202.3" cy="2362.4" r="4.8" fill="none" stroke="#00ff00" stroke-width="1.4"/>
<circle cx="202.3" cy="2365" r="5.6" fill="#ff0000"/>
<polygon points="202.5,2361.9 196.2,2373.1 208.8,2373.1" fill="#ff0000"/>
<rect x="212.2" y="2364.7" width="9.2" height="9.2" fill="#00ff00"/>
<polygon points="246.8,2362.5 248.39,2366.92 253.08,2367.06 249.37,2369.93 250.68,2374.44 246.8,2371.8 242.92,2374.44 244.23,2369.93 240.52,2367.06 245.21,2366.92" fill="#00ff00"/>
<polygon points="188.3,2368 182.5,2378 194.1,2378" fill="none" stroke="#00ff00" stroke-width="1.4" stroke-linejoin="miter"/>
<polygon points="176.8,2377.3 171,2387.3 182.6,2387.3" fill="none" stroke="#ff0000" stroke-width="1.4" stroke-linejoin="miter"/>
<polygon points="186.1,2379.4 187.63,2383.3 191.81,2383.55 188.57,2386.2 189.63,2390.25 186.1,2388 182.57,2390.25 183.63,2386.2 180.39,2383.55 184.57,2383.3" fill="none" stroke="#00ff00" stroke-width="1.3" stroke-linejoin="miter"/>
<rect x="175.9" y="2383.7" width="9.2" height="9.2" fill="#ff0000"/>
<rect x="172" y="2382.5" width="8.4" height="8.4" fill="none" stroke="#ff0000" stroke-width="1.3"/>
<polygon points="169.6,2387.5 171.13,2391.4 175.31,2391.65 172.07,2394.3 173.13,2398.35 169.6,2396.1 166.07,2398.35 167.13,2394.3 163.89,2391.65 168.07,2391.4" fill="none" stroke="#0000ff" stroke-width="1.3" stroke-linejoin="miter"/>
<polygon points="168.3,2396 169.83,2399.9 174.01,2400.15 170.77,2402.8 171.83,2406.85 168.3,2404.6 164.77,2406.85 165.83,2402.8 162.59,2400.15 166.77,2399.9" fill="none" stroke="#ff0000" stroke-width="1.3" stroke-linejoin="miter"/>
<rect x="165.1" y="2407.9" width="8.4" height="8.4" fill="none" stroke="#00ff00" stroke-width="1.3"/>
<rect x="146.8" y="2423.7" width="8.4" height="8.4" fill="none" stroke="#0000ff" stroke-width="1.3"/>
<circle cx="273.2" cy="2390.7" r="4.8" fill="none" stroke="#d2691e" stroke-width="1.4"/>
<rect x="269.4" y="2388.2" width="9.2" height="9.2" fill="#d2691e"/>
<polygon points="287.5,2373.5 281.2,2384.7 293.8,2384.7" fill="#0000ff"/>
<polygon points="287.7,2387.6 281.4,2398.8 294,2398.8" fill="#00ff00"/>
<polygon points="255.8,2396.1 250,2406.1 261.6,2406.1" fill="none" stroke="#d2691e" stroke-width="1.4" stroke-linejoin="miter"/>
<polygon points="240.7,2405.4 242.23,2409.3 246.41,2409.55 243.17,2412.2 244.23,2416.25 240.7,2414 237.17,2416.25 238.23,2412.2 234.99,2409.55 239.17,2409.3" fill="none" stroke="#d2691e" stroke-width="1.3" stroke-linejoin="miter"/>
<rect x="247.8" y="2418" width="8.4" height="8.4" fill="none" stroke="#d2691e" stroke-width="1.3"/>
<polygon points="283.7,2408.8 285.29,2413.22 289.98,2413.36 286.27,2416.23 287.58,2420.74 283.7,2418.1 279.82,2420.74 281.13,2416.23 277.42,2413.36 282.11,2413.22" fill="#d2691e"/>
<polygon points="293.1,2417.1 286.8,2428.3 299.4,2428.3" fill="#d2691e"/>
<circle cx="305.8" cy="2433.8" r="5.6" fill="#0000ff"/>
<circle cx="305.8" cy="2431.8" r="5.6" fill="#00ff00"/>
<circle cx="304.5" cy="2452.5" r="5.6" fill="#d2691e"/>
<clipPath id="clip11"><path d="M588.1,2479.1 L588.1,2170.8 A308.3,308.3 0 0 1 896.4,2479.1 Z"/></clipPath>
<path d="M588.1,2402.03 A77.08,77.08 0 0 1 665.18,2479.1" fill="none" stroke="#c8c8c8" stroke-width="1"/>
<path d="M588.1,2324.95 A154.15,154.15 0 0 1 742.25,2479.1" fill="none" stroke="#c8c8c8" stroke-width="1"/>
<path d="M588.1,2247.88 A231.23,231.23 0 0 1 819.33,2479.1" fill="none" stroke="#c8c8c8" stroke-width="1"/>
<g clip-path="url(#clip11)" fill="none" stroke="#e04848" stroke-width="1.2"><circle cx="742.25" cy="2479.1" r="77.08"/><circle cx="742.25" cy="2479.1" r="154.15"/><circle cx="742.25" cy="2479.1" r="231.23"/><circle cx="742.25" cy="2479.1" r="308.3"/></g>
<rect x="623" y="2188.65" width="13" height="10" fill="#fff"/>
<text x="629.5" y="2198.15" font-size="12.5" text-anchor="middle">2</text>
<rect x="684.4" y="2249.95" width="24" height="10" fill="#fff"/>
<text x="696.4" y="2259.45" font-size="12.5" text-anchor="middle">1.5</text>
<rect x="739.2" y="2320.85" width="13" height="10" fill="#fff"/>
<text x="745.7" y="2330.35" font-size="12.5" text-anchor="middle">1</text>
<rect x="738.9" y="2397.85" width="24" height="10" fill="#fff"/>
<text x="750.9" y="2407.35" font-size="12.5" text-anchor="middle">0.5</text>
<path d="M588.1,2479.1 H888.4 M588.1,2479.1 V2178.8" stroke="#8c8c8c" stroke-width="1.3" fill="none"/>
<path d="M626.64,2479.1 v-3 M588.1,2440.56 h3 M665.18,2479.1 v-3 M588.1,2402.03 h3 M703.71,2479.1 v-3 M588.1,2363.49 h3 M742.25,2479.1 v-3 M588.1,2324.95 h3 M780.79,2479.1 v-3 M588.1,2286.41 h3 M819.33,2479.1 v-3 M588.1,2247.88 h3 M857.86,2479.1 v-3 M588.1,2209.34 h3" stroke="#8c8c8c" stroke-width="1" fill="none"/>
<path d="M588.1,2170.8 A308.3,308.3 0 0 1 896.4,2479.1" fill="none" stroke="#000" stroke-width="2"/>
<path d="M588.1,2170.8 L588.1,2178.3 M618.93,2172.35 L618.18,2179.81 M649.76,2177.03 L648.26,2184.38 M680.59,2185 L678.34,2192.16 M711.42,2196.54 L708.42,2203.41 M742.25,2212.1 L738.5,2218.6 M773.08,2232.46 L768.58,2238.46 M803.91,2258.93 L798.66,2264.29 M834.74,2294.12 L828.74,2298.62 M865.57,2344.72 L858.82,2347.98 M880.99,2382.83 L873.86,2385.18 M893.32,2435.61 L885.89,2436.67 M896.4,2479.1 L888.9,2479.1" stroke="#000" stroke-width="2" fill="none"/>
<path d="M603.52,2171.19 L603.29,2175.68 M634.35,2174.29 L633.67,2178.74 M665.18,2180.59 L664.05,2184.95 M696,2190.3 L694.43,2194.52 M726.84,2203.78 L724.81,2207.8 M757.67,2221.62 L755.19,2225.38 M788.5,2244.81 L785.57,2248.23 M819.33,2275.18 L815.95,2278.16 M850.15,2316.69 L846.33,2319.06 M868.65,2351.28 L864.56,2353.14 M871.74,2358.27 L867.6,2360.04 M874.82,2365.78 L870.63,2367.44 M877.9,2373.92 L873.67,2375.45 M884.07,2392.78 L879.75,2394.04 M887.15,2404.15 L882.79,2405.24 M890.23,2417.75 L885.82,2418.64" stroke="#000" stroke-width="1.5" fill="none"/>
<text transform="translate(588.1,2165.3) rotate(-90)" x="0" y="5.2" font-size="14.5">0.0</text>
<text transform="translate(619.48,2166.87) rotate(-84.26)" x="0" y="5.2" font-size="14.5">0.1</text>
<text transform="translate(650.86,2171.64) rotate(-78.46)" x="0" y="5.2" font-size="14.5">0.2</text>
<text transform="translate(682.24,2179.75) rotate(-72.54)" x="0" y="5.2" font-size="14.5">0.3</text>
<text transform="translate(713.62,2191.5) rotate(-66.42)" x="0" y="5.2" font-size="14.5">0.4</text>
<text transform="translate(745,2207.34) rotate(-60)" x="0" y="5.2" font-size="14.5">0.5</text>
<text transform="translate(776.38,2228.06) rotate(-53.13)" x="0" y="5.2" font-size="14.5">0.6</text>
<text transform="translate(807.76,2255) rotate(-45.57)" x="0" y="5.2" font-size="14.5">0.7</text>
<text transform="translate(839.14,2290.82) rotate(-36.87)" x="0" y="5.2" font-size="14.5">0.8</text>
<text transform="translate(870.52,2342.32) rotate(-25.84)" x="0" y="5.2" font-size="14.5">0.9</text>
<text transform="translate(886.21,2381.12) rotate(-18.19)" x="0" y="5.2" font-size="14.5">0.95</text>
<text transform="translate(898.76,2434.83) rotate(-8.11)" x="0" y="5.2" font-size="14.5">0.99</text>
<text transform="translate(901.9,2479.1) rotate(-0)" x="0" y="5.2" font-size="14.5">1</text>
<text x="582.1" y="2484.3" font-size="14.5" text-anchor="end">0.00</text>
<text x="588.1" y="2499.8" font-size="14.5" text-anchor="middle">0.00</text>
<text x="582.1" y="2445.76" font-size="14.5" text-anchor="end">0.25</text>
<text x="626.64" y="2499.8" font-size="14.5" text-anchor="middle">0.25</text>
<text x="582.1" y="2407.22" font-size="14.5" text-anchor="end">0.50</text>
<text x="665.18" y="2499.8" font-size="14.5" text-anchor="middle">0.50</text>
<text x="582.1" y="2368.69" font-size="14.5" text-anchor="end">0.75</text>
<text x="703.71" y="2499.8" font-size="14.5" text-anchor="middle">0.75</text>
<text x="582.1" y="2330.15" font-size="14.5" text-anchor="end">1.00</text>
<text x="742.25" y="2499.8" font-size="14.5" text-anchor="middle">1.00</text>
<text x="582.1" y="2291.61" font-size="14.5" text-anchor="end">1.25</text>
<text x="780.79" y="2499.8" font-size="14.5" text-anchor="middle">1.25</text>
<text x="582.1" y="2253.07" font-size="14.5" text-anchor="end">1.50</text>
<text x="819.33" y="2499.8" font-size="14.5" text-anchor="middle">1.50</text>
<text x="582.1" y="2214.54" font-size="14.5" text-anchor="end">1.75</text>
<text x="857.86" y="2499.8" font-size="14.5" text-anchor="middle">1.75</text>
<text transform="translate(833.99,2226.25) rotate(45)" y="5.3" font-size="15" text-anchor="middle">Correlation</text>
<text transform="translate(547.3,2324.6) rotate(-90)" font-size="15.7" text-anchor="middle">Standard deviation (normalized)</text>
<rect x="779.2" y="2112.5" width="100.5" height="67" fill="#fff" stroke="#777" stroke-width="1"/>
<circle cx="800" cy="2122.5" r="4.2" fill="#ff0000"/>
<text x="820.3" y="2126.9" font-size="12.5">HYCOM</text>
<circle cx="800" cy="2138.73" r="4.2" fill="#0000ff"/>
<text x="820.3" y="2143.13" font-size="12.5">MRI.COM</text>
<circle cx="800" cy="2154.96" r="4.2" fill="#d2691e"/>
<text x="820.3" y="2159.36" font-size="12.5">OFES</text>
<circle cx="800" cy="2171.19" r="4.2" fill="#00ff00"/>
<text x="820.3" y="2175.59" font-size="12.5">NEMO</text>
<rect x="879.5" y="2112.5" width="81.7" height="137.2" fill="#fff" stroke="#777" stroke-width="1"/>
<circle cx="900.5" cy="2122.9" r="4.2" fill="#000000"/>
<text x="921.8" y="2127.3" font-size="12.5">10 m</text>
<polygon points="900.5,2135.43 895.77,2143.83 905.23,2143.83" fill="#000000"/>
<text x="921.8" y="2144.03" font-size="12.5">30m</text>
<polygon points="900.5,2151.86 901.69,2155.17 905.21,2155.28 902.43,2157.44 903.41,2160.81 900.5,2158.84 897.59,2160.81 898.57,2157.44 895.79,2155.28 899.31,2155.17" fill="#000000"/>
<text x="921.8" y="2160.76" font-size="12.5">50 m</text>
<rect x="897.05" y="2169.64" width="6.9" height="6.9" fill="#000000"/>
<text x="921.8" y="2177.49" font-size="12.5">80 m</text>
<circle cx="900.5" cy="2189.82" r="3.6" fill="none" stroke="#000000" stroke-width="1.4"/>
<text x="921.8" y="2194.22" font-size="12.5">100 m</text>
<polygon points="900.5,2202.8 896.15,2210.3 904.85,2210.3" fill="none" stroke="#000000" stroke-width="1.4" stroke-linejoin="miter"/>
<text x="921.8" y="2210.95" font-size="12.5">150 m</text>
<polygon points="900.5,2219.23 901.65,2222.15 904.78,2222.34 902.35,2224.33 903.15,2227.37 900.5,2225.68 897.85,2227.37 898.65,2224.33 896.22,2222.34 899.35,2222.15" fill="none" stroke="#000000" stroke-width="1.3" stroke-linejoin="miter"/>
<text x="921.8" y="2227.68" font-size="12.5">200 m</text>
<rect x="897.35" y="2236.86" width="6.3" height="6.3" fill="none" stroke="#000000" stroke-width="1.3"/>
<text x="921.8" y="2244.41" font-size="12.5">250 m</text>
<circle cx="742.25" cy="2479.1" r="4.3" fill="#000"/>
<polygon points="678,2298 672.2,2308 683.8,2308" fill="none" stroke="#0000ff" stroke-width="1.4" stroke-linejoin="miter"/>
<circle cx="670.6" cy="2316" r="4.8" fill="none" stroke="#0000ff" stroke-width="1.4"/>
<rect x="688.4" y="2328.9" width="9.2" height="9.2" fill="#0000ff"/>
<polygon points="697.8,2333.5 699.39,2337.92 704.08,2338.06 700.37,2340.93 701.68,2345.44 697.8,2342.8 693.92,2345.44 695.23,2340.93 691.52,2338.06 696.21,2337.92" fill="#0000ff"/>
<polygon points="633.3,2365.8 627.5,2375.8 639.1,2375.8" fill="none" stroke="#00ff00" stroke-width="1.4" stroke-linejoin="miter"/>
<circle cx="653.8" cy="2365.6" r="4.8" fill="none" stroke="#00ff00" stroke-width="1.4"/>
<polygon points="653.8,2360.2 655.33,2364.1 659.51,2364.35 656.27,2367 657.33,2371.05 653.8,2368.8 650.27,2371.05 651.33,2367 648.09,2364.35 652.27,2364.1" fill="none" stroke="#00ff00" stroke-width="1.3" stroke-linejoin="miter"/>
<polygon points="782.5,2365.2 784.09,2369.62 788.78,2369.76 785.07,2372.63 786.38,2377.14 782.5,2374.5 778.62,2377.14 779.93,2372.63 776.22,2369.76 780.91,2369.62" fill="#d2691e"/>
<polygon points="648.2,2384.5 649.73,2388.4 653.91,2388.65 650.67,2391.3 651.73,2395.35 648.2,2393.1 644.67,2395.35 645.73,2391.3 642.49,2388.65 646.67,2388.4" fill="none" stroke="#0000ff" stroke-width="1.3" stroke-linejoin="miter"/>
<rect x="626.5" y="2400.6" width="8.4" height="8.4" fill="none" stroke="#00ff00" stroke-width="1.3"/>
<polygon points="797.4,2412.3 791.1,2423.5 803.7,2423.5" fill="#d2691e"/>
<rect x="610.4" y="2438.6" width="8.4" height="8.4" fill="none" stroke="#0000ff" stroke-width="1.3"/>
<polygon points="725.9,2360.2 727.49,2364.62 732.18,2364.76 728.47,2367.63 729.78,2372.14 725.9,2369.5 722.02,2372.14 723.33,2367.63 719.62,2364.76 724.31,2364.62" fill="#00ff00"/>
<rect x="667.5" y="2369.1" width="9.2" height="9.2" fill="#00ff00"/>
<rect x="675.1" y="2380" width="8.4" height="8.4" fill="none" stroke="#d2691e" stroke-width="1.3"/>
<polygon points="682.4,2379.5 683.93,2383.4 688.11,2383.65 684.87,2386.3 685.93,2390.35 682.4,2388.1 678.87,2390.35 679.93,2386.3 676.69,2383.65 680.87,2383.4" fill="none" stroke="#d2691e" stroke-width="1.3" stroke-linejoin="miter"/>
<circle cx="713.2" cy="2392.6" r="4.8" fill="none" stroke="#d2691e" stroke-width="1.4"/>
<polygon points="727.1,2387.6 728.69,2392.02 733.38,2392.16 729.67,2395.03 730.98,2399.54 727.1,2396.9 723.22,2399.54 724.53,2395.03 720.82,2392.16 725.51,2392.02" fill="#ff0000"/>
<rect x="729.6" y="2391.8" width="9.2" height="9.2" fill="#d2691e"/>
<circle cx="764.5" cy="2404.1" r="5.6" fill="#00ff00"/>
<polygon points="695.1,2401 689.3,2411 700.9,2411" fill="none" stroke="#d2691e" stroke-width="1.4" stroke-linejoin="miter"/>
<polygon points="713.5,2402.3 707.2,2413.5 719.8,2413.5" fill="#0000ff"/>
<rect x="706.1" y="2407" width="9.2" height="9.2" fill="#ff0000"/>
<circle cx="722.2" cy="2414.1" r="5.6" fill="#0000ff"/>
<polygon points="766.3,2413.5 760,2424.7 772.6,2424.7" fill="#00ff00"/>
<circle cx="688" cy="2422.8" r="5.6" fill="#ff0000"/>
<polygon points="711,2418.4 704.7,2429.6 717.3,2429.6" fill="#ff0000"/>
<circle cx="760.7" cy="2430.6" r="5.6" fill="#d2691e"/>
<polygon points="663.7,2419.3 665.23,2423.2 669.41,2423.45 666.17,2426.1 667.23,2430.15 663.7,2427.9 660.17,2430.15 661.23,2426.1 657.99,2423.45 662.17,2423.2" fill="none" stroke="#ff0000" stroke-width="1.3" stroke-linejoin="miter"/>
<polygon points="663.7,2432.7 657.9,2442.7 669.5,2442.7" fill="none" stroke="#ff0000" stroke-width="1.4" stroke-linejoin="miter"/>
<rect x="671.3" y="2440.4" width="8.4" height="8.4" fill="none" stroke="#ff0000" stroke-width="1.3"/>
</svg>
</body></html>
